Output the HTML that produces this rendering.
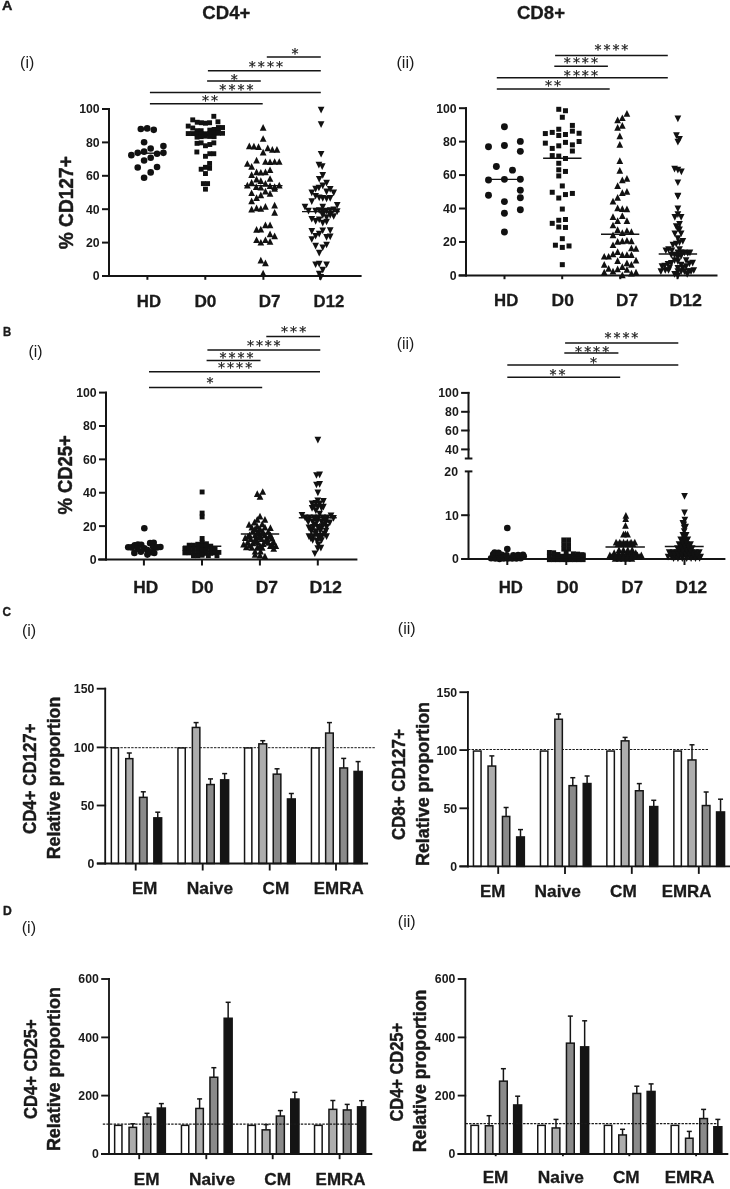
<!DOCTYPE html>
<html lang="en"><head><meta charset="utf-8"><title>Figure</title>
<style>html,body{margin:0;padding:0;background:#fff}body{width:730px;height:1189px;overflow:hidden}svg{display:block;will-change:transform}text{fill:#1a1a1a}</style>
</head><body>
<svg width="730" height="1189" viewBox="0 0 730 1189">
<rect width="730" height="1189" fill="#fff"/>
<text x="458" y="476" font-family="'Liberation Sans', Arial, sans-serif" font-size="12.3" font-weight="bold" text-anchor="end">20</text>
<text x="2.1" y="10.3" font-family="'Liberation Sans', Arial, sans-serif" font-size="12.2" font-weight="bold" textLength="10.4" lengthAdjust="spacingAndGlyphs" stroke="#1a1a1a" stroke-width="0.35" stroke-linejoin="round">A</text>
<text x="3" y="336.1" font-family="'Liberation Sans', Arial, sans-serif" font-size="12.2" font-weight="bold" textLength="8.2" lengthAdjust="spacingAndGlyphs" stroke="#1a1a1a" stroke-width="0.35" stroke-linejoin="round">B</text>
<text x="2.5" y="616.3" font-family="'Liberation Sans', Arial, sans-serif" font-size="12.2" font-weight="bold" textLength="8.5" lengthAdjust="spacingAndGlyphs" stroke="#1a1a1a" stroke-width="0.35" stroke-linejoin="round">C</text>
<text x="3" y="915" font-family="'Liberation Sans', Arial, sans-serif" font-size="12.2" font-weight="bold" textLength="8.8" lengthAdjust="spacingAndGlyphs" stroke="#1a1a1a" stroke-width="0.35" stroke-linejoin="round">D</text>
<text x="202.3" y="19.2" font-family="'Liberation Sans', Arial, sans-serif" font-size="19.2" font-weight="bold" textLength="48.01" lengthAdjust="spacingAndGlyphs" stroke="#1a1a1a" stroke-width="0.3" stroke-linejoin="round">CD4+</text>
<text x="516.9" y="19.3" font-family="'Liberation Sans', Arial, sans-serif" font-size="19.2" font-weight="bold" textLength="48.11" lengthAdjust="spacingAndGlyphs" stroke="#1a1a1a" stroke-width="0.3" stroke-linejoin="round">CD8+</text>
<text x="20.1" y="68.1" font-family="'Liberation Sans', Arial, sans-serif" font-size="16.5" font-weight="normal" textLength="14.1" lengthAdjust="spacingAndGlyphs">(i)</text>
<text x="396.4" y="68.4" font-family="'Liberation Sans', Arial, sans-serif" font-size="16.5" font-weight="normal" textLength="18.11" lengthAdjust="spacingAndGlyphs">(ii)</text>
<text x="28.5" y="356.7" font-family="'Liberation Sans', Arial, sans-serif" font-size="16.5" font-weight="normal" textLength="14" lengthAdjust="spacingAndGlyphs">(i)</text>
<text x="396.7" y="349.4" font-family="'Liberation Sans', Arial, sans-serif" font-size="16.5" font-weight="normal" textLength="17.51" lengthAdjust="spacingAndGlyphs">(ii)</text>
<text x="21.9" y="636.2" font-family="'Liberation Sans', Arial, sans-serif" font-size="16.5" font-weight="normal" textLength="14.3" lengthAdjust="spacingAndGlyphs">(i)</text>
<text x="397.8" y="634" font-family="'Liberation Sans', Arial, sans-serif" font-size="16.5" font-weight="normal" textLength="17.81" lengthAdjust="spacingAndGlyphs">(ii)</text>
<text x="21.7" y="933.4" font-family="'Liberation Sans', Arial, sans-serif" font-size="16.5" font-weight="normal" textLength="14.3" lengthAdjust="spacingAndGlyphs">(i)</text>
<text x="397.8" y="926.8" font-family="'Liberation Sans', Arial, sans-serif" font-size="16.5" font-weight="normal" textLength="17.81" lengthAdjust="spacingAndGlyphs">(ii)</text>
<text x="-249.2" y="0" font-family="'Liberation Sans', Arial, sans-serif" font-size="20" font-weight="bold" textLength="93" lengthAdjust="spacingAndGlyphs" transform="translate(72.7 0) rotate(-90)" stroke="#1a1a1a" stroke-width="0.45" stroke-linejoin="round">% CD127+</text>
<text x="-514.6" y="0" font-family="'Liberation Sans', Arial, sans-serif" font-size="20" font-weight="bold" textLength="79.49" lengthAdjust="spacingAndGlyphs" transform="translate(72.1 0) rotate(-90)" stroke="#1a1a1a" stroke-width="0.45" stroke-linejoin="round">% CD25+</text>
<text x="-834" y="0" font-family="'Liberation Sans', Arial, sans-serif" font-size="18" font-weight="bold" textLength="110.6" lengthAdjust="spacingAndGlyphs" transform="translate(36.1 0) rotate(-90)" stroke="#1a1a1a" stroke-width="0.45" stroke-linejoin="round">CD4+ CD127+</text>
<text x="-859.2" y="0" font-family="'Liberation Sans', Arial, sans-serif" font-size="18" font-weight="bold" textLength="162.39" lengthAdjust="spacingAndGlyphs" transform="translate(60.1 0) rotate(-90)" stroke="#1a1a1a" stroke-width="0.45" stroke-linejoin="round">Relative proportion</text>
<text x="-840.1" y="0" font-family="'Liberation Sans', Arial, sans-serif" font-size="18" font-weight="bold" textLength="110.9" lengthAdjust="spacingAndGlyphs" transform="translate(405.4 0) rotate(-90)" stroke="#1a1a1a" stroke-width="0.45" stroke-linejoin="round">CD8+ CD127+</text>
<text x="-866" y="0" font-family="'Liberation Sans', Arial, sans-serif" font-size="18" font-weight="bold" textLength="163.99" lengthAdjust="spacingAndGlyphs" transform="translate(429 0) rotate(-90)" stroke="#1a1a1a" stroke-width="0.45" stroke-linejoin="round">Relative proportion</text>
<text x="-1119" y="0" font-family="'Liberation Sans', Arial, sans-serif" font-size="18" font-weight="bold" textLength="99.8" lengthAdjust="spacingAndGlyphs" transform="translate(36.6 0) rotate(-90)" stroke="#1a1a1a" stroke-width="0.45" stroke-linejoin="round">CD4+ CD25+</text>
<text x="-1151.1" y="0" font-family="'Liberation Sans', Arial, sans-serif" font-size="18" font-weight="bold" textLength="163.99" lengthAdjust="spacingAndGlyphs" transform="translate(59.6 0) rotate(-90)" stroke="#1a1a1a" stroke-width="0.45" stroke-linejoin="round">Relative proportion</text>
<text x="-1121.5" y="0" font-family="'Liberation Sans', Arial, sans-serif" font-size="18" font-weight="bold" textLength="98.6" lengthAdjust="spacingAndGlyphs" transform="translate(403.4 0) rotate(-90)" stroke="#1a1a1a" stroke-width="0.45" stroke-linejoin="round">CD4+ CD25+</text>
<text x="-1152.3" y="0" font-family="'Liberation Sans', Arial, sans-serif" font-size="18" font-weight="bold" textLength="162.69" lengthAdjust="spacingAndGlyphs" transform="translate(426.2 0) rotate(-90)" stroke="#1a1a1a" stroke-width="0.45" stroke-linejoin="round">Relative proportion</text>
<g>
<line x1="109" y1="108" x2="109" y2="277" stroke="#151515" stroke-width="2"/>
<line x1="102" y1="276" x2="361.6" y2="276" stroke="#151515" stroke-width="2"/>
<line x1="102" y1="276" x2="110" y2="276" stroke="#151515" stroke-width="2"/>
<text x="99.7" y="280.4" font-family="'Liberation Sans', Arial, sans-serif" font-size="12.3" font-weight="bold" text-anchor="end">0</text>
<line x1="102" y1="242.6" x2="110" y2="242.6" stroke="#151515" stroke-width="2"/>
<text x="99.7" y="247" font-family="'Liberation Sans', Arial, sans-serif" font-size="12.3" font-weight="bold" text-anchor="end">20</text>
<line x1="102" y1="209.2" x2="110" y2="209.2" stroke="#151515" stroke-width="2"/>
<text x="99.7" y="213.6" font-family="'Liberation Sans', Arial, sans-serif" font-size="12.3" font-weight="bold" text-anchor="end">40</text>
<line x1="102" y1="175.8" x2="110" y2="175.8" stroke="#151515" stroke-width="2"/>
<text x="99.7" y="180.2" font-family="'Liberation Sans', Arial, sans-serif" font-size="12.3" font-weight="bold" text-anchor="end">60</text>
<line x1="102" y1="142.4" x2="110" y2="142.4" stroke="#151515" stroke-width="2"/>
<text x="99.7" y="146.8" font-family="'Liberation Sans', Arial, sans-serif" font-size="12.3" font-weight="bold" text-anchor="end">80</text>
<line x1="102" y1="109" x2="110" y2="109" stroke="#151515" stroke-width="2"/>
<text x="99.7" y="113.4" font-family="'Liberation Sans', Arial, sans-serif" font-size="12.3" font-weight="bold" text-anchor="end">100</text>
<line x1="147.4" y1="276" x2="147.4" y2="279.8" stroke="#151515" stroke-width="2"/>
<line x1="205.3" y1="276" x2="205.3" y2="279.8" stroke="#151515" stroke-width="2"/>
<line x1="263.4" y1="276" x2="263.4" y2="279.8" stroke="#151515" stroke-width="2"/>
<line x1="320.1" y1="276" x2="320.1" y2="279.8" stroke="#151515" stroke-width="2"/>
<text x="136.8" y="306.5" font-family="'Liberation Sans', Arial, sans-serif" font-size="17" font-weight="bold" textLength="24.21" lengthAdjust="spacingAndGlyphs" stroke="#1a1a1a" stroke-width="0.3" stroke-linejoin="round">HD</text>
<text x="194.4" y="306.5" font-family="'Liberation Sans', Arial, sans-serif" font-size="17" font-weight="bold" textLength="22.01" lengthAdjust="spacingAndGlyphs" stroke="#1a1a1a" stroke-width="0.3" stroke-linejoin="round">D0</text>
<text x="258.8" y="306.5" font-family="'Liberation Sans', Arial, sans-serif" font-size="17" font-weight="bold" textLength="21.81" lengthAdjust="spacingAndGlyphs" stroke="#1a1a1a" stroke-width="0.3" stroke-linejoin="round">D7</text>
<text x="313.6" y="306.5" font-family="'Liberation Sans', Arial, sans-serif" font-size="17" font-weight="bold" textLength="30.71" lengthAdjust="spacingAndGlyphs" stroke="#1a1a1a" stroke-width="0.3" stroke-linejoin="round">D12</text>
<line x1="266.8" y1="57" x2="320.8" y2="57" stroke="#151515" stroke-width="1.5"/>
<line x1="207.9" y1="70.7" x2="320.8" y2="70.7" stroke="#151515" stroke-width="1.5"/>
<line x1="207.1" y1="81.1" x2="260.8" y2="81.1" stroke="#151515" stroke-width="1.5"/>
<line x1="149.9" y1="92.6" x2="320.8" y2="92.6" stroke="#151515" stroke-width="1.5"/>
<line x1="149.9" y1="103.8" x2="262.7" y2="103.8" stroke="#151515" stroke-width="1.5"/>
<text x="291.5" y="58" font-family="'DejaVu Sans', sans-serif" font-size="14" fill="#1a1a1a" stroke="#1a1a1a" stroke-width="0.25">*</text>
<text x="248.7 257.8 266.9 276" y="71" font-family="'DejaVu Sans', sans-serif" font-size="14" fill="#1a1a1a" stroke="#1a1a1a" stroke-width="0.25">****</text>
<text x="230.7" y="84" font-family="'DejaVu Sans', sans-serif" font-size="14" fill="#1a1a1a" stroke="#1a1a1a" stroke-width="0.25">*</text>
<text x="219.3 228.4 237.5 246.6" y="94" font-family="'DejaVu Sans', sans-serif" font-size="14" fill="#1a1a1a" stroke="#1a1a1a" stroke-width="0.25">****</text>
<text x="201.9 211" y="105" font-family="'DejaVu Sans', sans-serif" font-size="14" fill="#1a1a1a" stroke="#1a1a1a" stroke-width="0.25">**</text>
<line x1="140.4" y1="153.2" x2="161" y2="153.2" stroke="#151515" stroke-width="1.4"/>
<line x1="244.2" y1="185.6" x2="282.5" y2="185.6" stroke="#151515" stroke-width="1.4"/>
<line x1="302" y1="211.6" x2="339.7" y2="211.6" stroke="#151515" stroke-width="1.4"/>
<g fill="#111">
<circle cx="140.82" cy="129.04" r="3.3"/><circle cx="147.19" cy="128.42" r="3.3"/><circle cx="153.76" cy="129.86" r="3.3"/><circle cx="144.1" cy="142.19" r="3.3"/><circle cx="163.42" cy="146.09" r="3.3"/><circle cx="150.68" cy="148.56" r="3.3"/><circle cx="144.1" cy="151.64" r="3.3"/><circle cx="137.73" cy="152.87" r="3.3"/><circle cx="157.05" cy="153.69" r="3.3"/><circle cx="163.42" cy="152.87" r="3.3"/><circle cx="131.36" cy="155.13" r="3.3"/><circle cx="150.68" cy="157.8" r="3.3"/><circle cx="144.1" cy="160.47" r="3.3"/><circle cx="137.73" cy="167.46" r="3.3"/><circle cx="157.05" cy="167.05" r="3.3"/><circle cx="150.68" cy="172.39" r="3.3"/><circle cx="144.1" cy="177.73" r="3.3"/>
<rect x="211.37" y="113.86" width="4.9" height="4.9"/><rect x="190.27" y="117.41" width="4.9" height="4.9"/><rect x="215.49" y="119.33" width="4.9" height="4.9"/><rect x="194.78" y="119.81" width="4.9" height="4.9"/><rect x="198.9" y="120.29" width="4.9" height="4.9"/><rect x="203.02" y="120.77" width="4.9" height="4.9"/><rect x="207.15" y="120.29" width="4.9" height="4.9"/><rect x="185.77" y="123.64" width="4.9" height="4.9"/><rect x="220.09" y="125.08" width="4.9" height="4.9"/><rect x="215.97" y="125.08" width="4.9" height="4.9"/><rect x="190.27" y="125.56" width="4.9" height="4.9"/><rect x="194.59" y="128.25" width="4.9" height="4.9"/><rect x="198.71" y="128.25" width="4.9" height="4.9"/><rect x="207.34" y="127.67" width="4.9" height="4.9"/><rect x="211.65" y="127" width="4.9" height="4.9"/><rect x="215.97" y="126.52" width="4.9" height="4.9"/><rect x="185.77" y="131.12" width="4.9" height="4.9"/><rect x="190.08" y="131.12" width="4.9" height="4.9"/><rect x="194.4" y="131.31" width="4.9" height="4.9"/><rect x="198.71" y="131.31" width="4.9" height="4.9"/><rect x="203.02" y="131.31" width="4.9" height="4.9"/><rect x="207.34" y="131.12" width="4.9" height="4.9"/><rect x="211.65" y="130.35" width="4.9" height="4.9"/><rect x="215.97" y="130.83" width="4.9" height="4.9"/><rect x="220.09" y="130.83" width="4.9" height="4.9"/><rect x="194.59" y="134.67" width="4.9" height="4.9"/><rect x="198.71" y="134.19" width="4.9" height="4.9"/><rect x="203.02" y="133.71" width="4.9" height="4.9"/><rect x="207.34" y="134" width="4.9" height="4.9"/><rect x="211.65" y="134.19" width="4.9" height="4.9"/><rect x="194.59" y="140.9" width="4.9" height="4.9"/><rect x="198.71" y="140.42" width="4.9" height="4.9"/><rect x="203.02" y="143.3" width="4.9" height="4.9"/><rect x="207.34" y="142.05" width="4.9" height="4.9"/><rect x="211.37" y="140.42" width="4.9" height="4.9"/><rect x="194.4" y="149.53" width="4.9" height="4.9"/><rect x="207.34" y="151.26" width="4.9" height="4.9"/><rect x="211.37" y="151.26" width="4.9" height="4.9"/><rect x="203.02" y="153.84" width="4.9" height="4.9"/><rect x="207.15" y="161.04" width="4.9" height="4.9"/><rect x="203.02" y="164.87" width="4.9" height="4.9"/><rect x="207.15" y="165.83" width="4.9" height="4.9"/><rect x="198.71" y="166.79" width="4.9" height="4.9"/><rect x="203.02" y="171.1" width="4.9" height="4.9"/><rect x="200.92" y="181.17" width="4.9" height="4.9"/><rect x="205.13" y="181.17" width="4.9" height="4.9"/><rect x="203.02" y="186.73" width="4.9" height="4.9"/>
<path d="M263.14 123.97L266.49 130.67L259.79 130.67Z"/><path d="M263.14 135.14L266.49 141.84L259.79 141.84Z"/><path d="M249.33 142.6L252.68 149.3L245.98 149.3Z"/><path d="M253.93 142.81L257.28 149.51L250.58 149.51Z"/><path d="M258.53 143.36L261.88 150.06L255.18 150.06Z"/><path d="M267.74 144.46L271.09 151.16L264.39 151.16Z"/><path d="M272.34 146.1L275.69 152.8L268.99 152.8Z"/><path d="M276.95 146.1L280.3 152.8L273.6 152.8Z"/><path d="M263.14 148.84L266.49 155.54L259.79 155.54Z"/><path d="M256.56 156.84L259.91 163.54L253.21 163.54Z"/><path d="M265.44 158.16L268.79 164.86L262.09 164.86Z"/><path d="M270.04 158.38L273.39 165.08L266.69 165.08Z"/><path d="M274.64 158.16L277.99 164.86L271.29 164.86Z"/><path d="M279.25 158.16L282.6 164.86L275.9 164.86Z"/><path d="M247.36 160.13L250.71 166.83L244.01 166.83Z"/><path d="M251.63 163.09L254.98 169.79L248.28 169.79Z"/><path d="M270.04 166.38L273.39 173.08L266.69 173.08Z"/><path d="M256.56 168.57L259.91 175.27L253.21 175.27Z"/><path d="M260.84 168.9L264.19 175.6L257.49 175.6Z"/><path d="M265.44 168.57L268.79 175.27L262.09 175.27Z"/><path d="M251.63 171.31L254.98 178.01L248.28 178.01Z"/><path d="M270.04 175.14L273.39 181.84L266.69 181.84Z"/><path d="M256.56 175.69L259.91 182.39L253.21 182.39Z"/><path d="M260.84 177.33L264.19 184.03L257.49 184.03Z"/><path d="M251.63 178.98L254.98 185.68L248.28 185.68Z"/><path d="M265.44 180.07L268.79 186.77L262.09 186.77Z"/><path d="M247.36 181.72L250.71 188.42L244.01 188.42Z"/><path d="M256.23 183.36L259.58 190.06L252.88 190.06Z"/><path d="M260.84 183.91L264.19 190.61L257.49 190.61Z"/><path d="M270.04 182.27L273.39 188.97L266.69 188.97Z"/><path d="M274.64 183.36L277.99 190.06L271.29 190.06Z"/><path d="M279.25 181.72L282.6 188.42L275.9 188.42Z"/><path d="M265.44 187.75L268.79 194.45L262.09 194.45Z"/><path d="M274.64 185.01L277.99 191.71L271.29 191.71Z"/><path d="M251.63 189.39L254.98 196.09L248.28 196.09Z"/><path d="M270.04 189.94L273.39 196.64L266.69 196.64Z"/><path d="M260.84 191.58L264.19 198.28L257.49 198.28Z"/><path d="M256.56 194.32L259.91 201.02L253.21 201.02Z"/><path d="M251.63 197.61L254.98 204.31L248.28 204.31Z"/><path d="M251.63 205.69L254.98 212.39L248.28 212.39Z"/><path d="M256.56 204.6L259.91 211.3L253.21 211.3Z"/><path d="M260.84 205.14L264.19 211.84L257.49 211.84Z"/><path d="M265.44 202.95L268.79 209.65L262.09 209.65Z"/><path d="M274.64 201.86L277.99 208.56L271.29 208.56Z"/><path d="M274.64 208.98L277.99 215.68L271.29 215.68Z"/><path d="M265.44 221.58L268.79 228.28L262.09 228.28Z"/><path d="M270.04 221.58L273.39 228.28L266.69 228.28Z"/><path d="M256.56 225.97L259.91 232.67L253.21 232.67Z"/><path d="M260.84 225.75L264.19 232.45L257.49 232.45Z"/><path d="M270.04 230.57L273.39 237.27L266.69 237.27Z"/><path d="M274.64 232.54L277.99 239.24L271.29 239.24Z"/><path d="M256.56 236.38L259.91 243.08L253.21 243.08Z"/><path d="M265.44 236.38L268.79 243.08L262.09 243.08Z"/><path d="M260.84 238.9L264.19 245.6L257.49 245.6Z"/><path d="M270.04 238.02L273.39 244.72L266.69 244.72Z"/><path d="M260.84 256.87L264.19 263.57L257.49 263.57Z"/><path d="M265.44 259.61L268.79 266.31L262.09 266.31Z"/><path d="M263.14 269.8L266.49 276.5L259.79 276.5Z"/>
<path d="M321.1 113.43L324.45 106.73L317.75 106.73Z"/><path d="M321.1 128.01L324.45 121.31L317.75 121.31Z"/><path d="M321.1 157.6L324.45 150.9L317.75 150.9Z"/><path d="M318.9 168.56L322.25 161.86L315.55 161.86Z"/><path d="M322.19 169.99L325.54 163.29L318.84 163.29Z"/><path d="M322.74 178.76L326.09 172.06L319.39 172.06Z"/><path d="M319.23 182.6L322.58 175.9L315.88 175.9Z"/><path d="M326.58 186.43L329.93 179.73L323.23 179.73Z"/><path d="M322.74 189.17L326.09 182.47L319.39 182.47Z"/><path d="M318.9 191.36L322.25 184.66L315.55 184.66Z"/><path d="M315.62 192.46L318.97 185.76L312.27 185.76Z"/><path d="M330.19 192.68L333.54 185.98L326.84 185.98Z"/><path d="M311.78 196.3L315.13 189.6L308.43 189.6Z"/><path d="M333.7 196.3L337.05 189.6L330.35 189.6Z"/><path d="M326.58 195.2L329.93 188.5L323.23 188.5Z"/><path d="M315.62 199.58L318.97 192.88L312.27 192.88Z"/><path d="M319.23 201.23L322.58 194.53L315.88 194.53Z"/><path d="M322.74 201.77L326.09 195.07L319.39 195.07Z"/><path d="M326.58 202.32L329.93 195.62L323.23 195.62Z"/><path d="M330.19 201.77L333.54 195.07L326.84 195.07Z"/><path d="M311.78 205.06L315.13 198.36L308.43 198.36Z"/><path d="M304.99 210.54L308.34 203.84L301.64 203.84Z"/><path d="M322.74 210.54L326.09 203.84L319.39 203.84Z"/><path d="M337.21 208.68L340.56 201.98L333.86 201.98Z"/><path d="M308.49 214.38L311.84 207.68L305.14 207.68Z"/><path d="M315.62 214.38L318.97 207.68L312.27 207.68Z"/><path d="M319.23 213.83L322.58 207.13L315.88 207.13Z"/><path d="M322.74 214.93L326.09 208.23L319.39 208.23Z"/><path d="M326.58 214.38L329.93 207.68L323.23 207.68Z"/><path d="M330.19 213.83L333.54 207.13L326.84 207.13Z"/><path d="M333.7 213.28L337.05 206.58L330.35 206.58Z"/><path d="M337.21 214.93L340.56 208.23L333.86 208.23Z"/><path d="M322.74 218.76L326.09 212.06L319.39 212.06Z"/><path d="M330.19 218.76L333.54 212.06L326.84 212.06Z"/><path d="M333.7 219.86L337.05 213.16L330.35 213.16Z"/><path d="M311.78 222.6L315.13 215.9L308.43 215.9Z"/><path d="M315.62 224.79L318.97 218.09L312.27 218.09Z"/><path d="M319.23 223.14L322.58 216.44L315.88 216.44Z"/><path d="M322.74 226.43L326.09 219.73L319.39 219.73Z"/><path d="M326.58 225.34L329.93 218.64L323.23 218.64Z"/><path d="M326.58 220.95L329.93 214.25L323.23 214.25Z"/><path d="M311.78 234.65L315.13 227.95L308.43 227.95Z"/><path d="M322.74 234.1L326.09 227.4L319.39 227.4Z"/><path d="M330.19 233.88L333.54 227.18L326.84 227.18Z"/><path d="M315.62 239.58L318.97 232.88L312.27 232.88Z"/><path d="M319.23 237.39L322.58 230.69L315.88 230.69Z"/><path d="M326.58 240.68L329.93 233.98L323.23 233.98Z"/><path d="M330.19 240.13L333.54 233.43L326.84 233.43Z"/><path d="M311.78 242.87L315.13 236.17L308.43 236.17Z"/><path d="M315.62 249.45L318.97 242.75L312.27 242.75Z"/><path d="M326.58 248.35L329.93 241.65L323.23 241.65Z"/><path d="M322.74 251.09L326.09 244.39L319.39 244.39Z"/><path d="M319.23 256.57L322.58 249.87L315.88 249.87Z"/><path d="M315.62 268.08L318.97 261.38L312.27 261.38Z"/><path d="M319.23 267.53L322.58 260.83L315.88 260.83Z"/><path d="M326.58 268.08L329.93 261.38L323.23 261.38Z"/><path d="M322.74 273.56L326.09 266.86L319.39 266.86Z"/><path d="M319.23 277.39L322.58 270.69L315.88 270.69Z"/><path d="M320.77 280.68L324.12 273.98L317.42 273.98Z"/>
</g>
</g>
<g>
<line x1="466" y1="107.2" x2="466" y2="276.4" stroke="#151515" stroke-width="2"/>
<line x1="458.5" y1="275.4" x2="717.5" y2="275.4" stroke="#151515" stroke-width="2"/>
<line x1="459" y1="275.4" x2="467" y2="275.4" stroke="#151515" stroke-width="2"/>
<text x="456.7" y="279.8" font-family="'Liberation Sans', Arial, sans-serif" font-size="12.3" font-weight="bold" text-anchor="end">0</text>
<line x1="459" y1="241.96" x2="467" y2="241.96" stroke="#151515" stroke-width="2"/>
<text x="456.7" y="246.36" font-family="'Liberation Sans', Arial, sans-serif" font-size="12.3" font-weight="bold" text-anchor="end">20</text>
<line x1="459" y1="208.52" x2="467" y2="208.52" stroke="#151515" stroke-width="2"/>
<text x="456.7" y="212.92" font-family="'Liberation Sans', Arial, sans-serif" font-size="12.3" font-weight="bold" text-anchor="end">40</text>
<line x1="459" y1="175.08" x2="467" y2="175.08" stroke="#151515" stroke-width="2"/>
<text x="456.7" y="179.48" font-family="'Liberation Sans', Arial, sans-serif" font-size="12.3" font-weight="bold" text-anchor="end">60</text>
<line x1="459" y1="141.64" x2="467" y2="141.64" stroke="#151515" stroke-width="2"/>
<text x="456.7" y="146.04" font-family="'Liberation Sans', Arial, sans-serif" font-size="12.3" font-weight="bold" text-anchor="end">80</text>
<line x1="459" y1="108.2" x2="467" y2="108.2" stroke="#151515" stroke-width="2"/>
<text x="456.7" y="112.6" font-family="'Liberation Sans', Arial, sans-serif" font-size="12.3" font-weight="bold" text-anchor="end">100</text>
<line x1="504.5" y1="275.4" x2="504.5" y2="279.2" stroke="#151515" stroke-width="2"/>
<line x1="562.2" y1="275.4" x2="562.2" y2="279.2" stroke="#151515" stroke-width="2"/>
<line x1="620.3" y1="275.4" x2="620.3" y2="279.2" stroke="#151515" stroke-width="2"/>
<line x1="677.5" y1="275.4" x2="677.5" y2="279.2" stroke="#151515" stroke-width="2"/>
<text x="494.1" y="306.4" font-family="'Liberation Sans', Arial, sans-serif" font-size="17" font-weight="bold" textLength="24.21" lengthAdjust="spacingAndGlyphs" stroke="#1a1a1a" stroke-width="0.3" stroke-linejoin="round">HD</text>
<text x="551.6" y="306.4" font-family="'Liberation Sans', Arial, sans-serif" font-size="17" font-weight="bold" textLength="22.31" lengthAdjust="spacingAndGlyphs" stroke="#1a1a1a" stroke-width="0.3" stroke-linejoin="round">D0</text>
<text x="616.1" y="306.4" font-family="'Liberation Sans', Arial, sans-serif" font-size="17" font-weight="bold" textLength="21.91" lengthAdjust="spacingAndGlyphs" stroke="#1a1a1a" stroke-width="0.3" stroke-linejoin="round">D7</text>
<text x="669.4" y="306.4" font-family="'Liberation Sans', Arial, sans-serif" font-size="17" font-weight="bold" textLength="32.61" lengthAdjust="spacingAndGlyphs" stroke="#1a1a1a" stroke-width="0.3" stroke-linejoin="round">D12</text>
<line x1="555.1" y1="55.6" x2="667.8" y2="55.6" stroke="#151515" stroke-width="1.5"/>
<line x1="554.3" y1="66.2" x2="607.9" y2="66.2" stroke="#151515" stroke-width="1.5"/>
<line x1="496.8" y1="77.7" x2="667.8" y2="77.7" stroke="#151515" stroke-width="1.5"/>
<line x1="496.8" y1="89.1" x2="609.7" y2="89.1" stroke="#151515" stroke-width="1.5"/>
<text x="594.5 603.6 612.5 621.3" y="54" font-family="'DejaVu Sans', sans-serif" font-size="14" fill="#1a1a1a" stroke="#1a1a1a" stroke-width="0.25">****</text>
<text x="563.8 572.9 581.8 590.9" y="67" font-family="'DejaVu Sans', sans-serif" font-size="14" fill="#1a1a1a" stroke="#1a1a1a" stroke-width="0.25">****</text>
<text x="563.8 572.9 581.8 590.9" y="80" font-family="'DejaVu Sans', sans-serif" font-size="14" fill="#1a1a1a" stroke="#1a1a1a" stroke-width="0.25">****</text>
<text x="545.1 553.9" y="90" font-family="'DejaVu Sans', sans-serif" font-size="14" fill="#1a1a1a" stroke="#1a1a1a" stroke-width="0.25">**</text>
<line x1="488.5" y1="179.4" x2="520.3" y2="179.4" stroke="#151515" stroke-width="1.4"/>
<line x1="543.1" y1="158.2" x2="581.5" y2="158.2" stroke="#151515" stroke-width="1.4"/>
<line x1="601" y1="234.3" x2="639.3" y2="234.3" stroke="#151515" stroke-width="1.4"/>
<line x1="658.7" y1="254" x2="697.1" y2="254" stroke="#151515" stroke-width="1.4"/>
<g fill="#111">
<circle cx="504.42" cy="126.82" r="3.45"/><circle cx="488.5" cy="146.77" r="3.45"/><circle cx="504.42" cy="145.43" r="3.45"/><circle cx="520.33" cy="141.4" r="3.45"/><circle cx="520.33" cy="151.37" r="3.45"/><circle cx="496.36" cy="166.52" r="3.45"/><circle cx="512.47" cy="170.17" r="3.45"/><circle cx="488.5" cy="179.95" r="3.45"/><circle cx="504.42" cy="179.37" r="3.45"/><circle cx="520.33" cy="179.18" r="3.45"/><circle cx="488.5" cy="195.29" r="3.45"/><circle cx="520.33" cy="190.31" r="3.45"/><circle cx="504.42" cy="201.62" r="3.45"/><circle cx="520.33" cy="197.79" r="3.45"/><circle cx="520.33" cy="209.68" r="3.45"/><circle cx="504.42" cy="213.32" r="3.45"/><circle cx="504.42" cy="231.93" r="3.45"/>
<rect x="556.26" y="106.8" width="5" height="5"/><rect x="562.97" y="108.24" width="5" height="5"/><rect x="559.81" y="114.76" width="5" height="5"/><rect x="569.88" y="122.91" width="5" height="5"/><rect x="556.26" y="126.74" width="5" height="5"/><rect x="569.88" y="128.66" width="5" height="5"/><rect x="549.74" y="129.91" width="5" height="5"/><rect x="542.84" y="131.06" width="5" height="5"/><rect x="576.59" y="130.77" width="5" height="5"/><rect x="562.97" y="132.02" width="5" height="5"/><rect x="556.26" y="132.97" width="5" height="5"/><rect x="542.84" y="140.64" width="5" height="5"/><rect x="576.59" y="139.01" width="5" height="5"/><rect x="562.97" y="139.88" width="5" height="5"/><rect x="569.88" y="142.37" width="5" height="5"/><rect x="556.26" y="143.33" width="5" height="5"/><rect x="549.74" y="145.92" width="5" height="5"/><rect x="569.88" y="148.51" width="5" height="5"/><rect x="549.74" y="153.11" width="5" height="5"/><rect x="556.26" y="153.59" width="5" height="5"/><rect x="562.97" y="155.99" width="5" height="5"/><rect x="556.26" y="160.78" width="5" height="5"/><rect x="556.26" y="167.3" width="5" height="5"/><rect x="562.97" y="168.93" width="5" height="5"/><rect x="556.26" y="173.43" width="5" height="5"/><rect x="559.81" y="183.44" width="5" height="5"/><rect x="549.74" y="189.77" width="5" height="5"/><rect x="569.88" y="190.92" width="5" height="5"/><rect x="562.97" y="192.07" width="5" height="5"/><rect x="556.26" y="195.52" width="5" height="5"/><rect x="559.81" y="206.55" width="5" height="5"/><rect x="556.26" y="217.77" width="5" height="5"/><rect x="562.97" y="217" width="5" height="5"/><rect x="549.74" y="220.84" width="5" height="5"/><rect x="556.26" y="224.48" width="5" height="5"/><rect x="562.97" y="224.96" width="5" height="5"/><rect x="559.81" y="236.18" width="5" height="5"/><rect x="552.91" y="242.7" width="5" height="5"/><rect x="566.52" y="243.46" width="5" height="5"/><rect x="559.81" y="244.9" width="5" height="5"/><rect x="559.81" y="262.16" width="5" height="5"/>
<path d="M626.93 110.02L630.28 116.72L623.58 116.72Z"/><path d="M622.33 114.4L625.68 121.1L618.98 121.1Z"/><path d="M617.62 116.6L620.97 123.3L614.27 123.3Z"/><path d="M622.33 122.07L625.68 128.77L618.98 128.77Z"/><path d="M617.62 124.05L620.97 130.75L614.27 130.75Z"/><path d="M619.81 132.6L623.16 139.3L616.46 139.3Z"/><path d="M619.81 141.03L623.16 147.73L616.46 147.73Z"/><path d="M619.81 157.25L623.16 163.95L616.46 163.95Z"/><path d="M619.81 167.12L623.16 173.82L616.46 173.82Z"/><path d="M626.93 175.01L630.28 181.71L623.58 181.71Z"/><path d="M622.33 176.43L625.68 183.13L618.98 183.13Z"/><path d="M617.62 182.2L620.97 188.9L614.27 188.9Z"/><path d="M626.93 188.01L630.28 194.71L623.58 194.71Z"/><path d="M622.33 189.32L625.68 196.02L618.98 196.02Z"/><path d="M617.62 194.03L620.97 200.73L614.27 200.73Z"/><path d="M613.01 197.87L616.36 204.57L609.66 204.57Z"/><path d="M617.62 204.44L620.97 211.14L614.27 211.14Z"/><path d="M622.33 205.21L625.68 211.91L618.98 211.91Z"/><path d="M626.93 205.54L630.28 212.24L623.58 212.24Z"/><path d="M613.01 213.21L616.36 219.91L609.66 219.91Z"/><path d="M622.33 212.33L625.68 219.03L618.98 219.03Z"/><path d="M617.62 217.27L620.97 223.97L614.27 223.97Z"/><path d="M626.93 217.27L630.28 223.97L623.58 223.97Z"/><path d="M613.01 221.65L616.36 228.35L609.66 228.35Z"/><path d="M617.62 226.36L620.97 233.06L614.27 233.06Z"/><path d="M622.33 229.32L625.68 236.02L618.98 236.02Z"/><path d="M626.93 227.13L630.28 233.83L623.58 233.83Z"/><path d="M631.42 228.23L634.77 234.93L628.07 234.93Z"/><path d="M613.01 231.51L616.36 238.21L609.66 238.21Z"/><path d="M617.62 238.09L620.97 244.79L614.27 244.79Z"/><path d="M622.33 237.54L625.68 244.24L618.98 244.24Z"/><path d="M626.93 236.99L630.28 243.69L623.58 243.69Z"/><path d="M631.42 237.54L634.77 244.24L628.07 244.24Z"/><path d="M613.01 241.38L616.36 248.08L609.66 248.08Z"/><path d="M631.42 244.66L634.77 251.36L628.07 251.36Z"/><path d="M636.03 244.99L639.38 251.69L632.68 251.69Z"/><path d="M617.62 248.28L620.97 254.98L614.27 254.98Z"/><path d="M613.01 250.47L616.36 257.17L609.66 257.17Z"/><path d="M604.25 252.88L607.6 259.58L600.9 259.58Z"/><path d="M608.63 252.88L611.98 259.58L605.28 259.58Z"/><path d="M622.33 251.24L625.68 257.94L618.98 257.94Z"/><path d="M626.93 251.24L630.28 257.94L623.58 257.94Z"/><path d="M631.42 251.24L634.77 257.94L628.07 257.94Z"/><path d="M617.62 257.27L620.97 263.97L614.27 263.97Z"/><path d="M636.03 256.72L639.38 263.42L632.68 263.42Z"/><path d="M626.93 259.46L630.28 266.16L623.58 266.16Z"/><path d="M631.42 261.1L634.77 267.8L628.07 267.8Z"/><path d="M604.25 261.1L607.6 267.8L600.9 267.8Z"/><path d="M608.63 264.94L611.98 271.64L605.28 271.64Z"/><path d="M622.33 263.29L625.68 269.99L618.98 269.99Z"/><path d="M617.62 265.49L620.97 272.19L614.27 272.19Z"/><path d="M626.93 266.03L630.28 272.73L623.58 272.73Z"/><path d="M613.01 267.68L616.36 274.38L609.66 274.38Z"/><path d="M604.25 268.77L607.6 275.47L600.9 275.47Z"/><path d="M636.03 268.77L639.38 275.47L632.68 275.47Z"/><path d="M631.42 269.87L634.77 276.57L628.07 276.57Z"/><path d="M622.33 271.51L625.68 278.21L618.98 278.21Z"/>
<path d="M677.88 122.2L681.23 115.5L674.53 115.5Z"/><path d="M676.45 138.97L679.8 132.27L673.1 132.27Z"/><path d="M679.52 142.8L682.87 136.1L676.17 136.1Z"/><path d="M677.88 145.54L681.23 138.84L674.53 138.84Z"/><path d="M674.59 172.39L677.94 165.69L671.24 165.69Z"/><path d="M677.88 173.49L681.23 166.79L674.53 166.79Z"/><path d="M681.38 175.13L684.73 168.43L678.03 168.43Z"/><path d="M677.88 186.09L681.23 179.39L674.53 179.39Z"/><path d="M677.88 199.57L681.23 192.87L674.53 192.87Z"/><path d="M677.88 199.86L681.23 193.16L674.53 193.16Z"/><path d="M677.88 212.24L681.23 205.54L674.53 205.54Z"/><path d="M677.88 217.94L681.23 211.24L674.53 211.24Z"/><path d="M674.81 220.68L678.16 213.98L671.46 213.98Z"/><path d="M681.16 220.68L684.51 213.98L677.81 213.98Z"/><path d="M679.52 227.8L682.87 221.1L676.17 221.1Z"/><path d="M676.23 229.99L679.58 223.29L672.88 223.29Z"/><path d="M677.88 232.19L681.23 225.49L674.53 225.49Z"/><path d="M679.52 233.28L682.87 226.58L676.17 226.58Z"/><path d="M674.81 237.12L678.16 230.42L671.46 230.42Z"/><path d="M681.16 237.12L684.51 230.42L677.81 230.42Z"/><path d="M677.88 242.05L681.23 235.35L674.53 235.35Z"/><path d="M682.81 244.79L686.16 238.09L679.46 238.09Z"/><path d="M679.52 245.88L682.87 239.18L676.17 239.18Z"/><path d="M676.23 247.53L679.58 240.83L672.88 240.83Z"/><path d="M672.95 248.4L676.3 241.7L669.6 241.7Z"/><path d="M668.56 253.01L671.91 246.31L665.21 246.31Z"/><path d="M665.82 254.1L669.17 247.4L662.47 247.4Z"/><path d="M671.85 254.1L675.2 247.4L668.5 247.4Z"/><path d="M679.52 253.01L682.87 246.31L676.17 246.31Z"/><path d="M677.88 256.3L681.23 249.6L674.53 249.6Z"/><path d="M681.16 256.3L684.51 249.6L677.81 249.6Z"/><path d="M684.45 256.3L687.8 249.6L681.1 249.6Z"/><path d="M687.74 256.84L691.09 250.14L684.39 250.14Z"/><path d="M689.93 256.3L693.28 249.6L686.58 249.6Z"/><path d="M674.59 258.49L677.94 251.79L671.24 251.79Z"/><path d="M671.3 258.49L674.65 251.79L667.95 251.79Z"/><path d="M677.88 260.68L681.23 253.98L674.53 253.98Z"/><path d="M681.16 259.58L684.51 252.88L677.81 252.88Z"/><path d="M674.59 263.97L677.94 257.27L671.24 257.27Z"/><path d="M677.88 265.06L681.23 258.36L674.53 258.36Z"/><path d="M686.1 263.97L689.45 257.27L682.75 257.27Z"/><path d="M671.3 266.71L674.65 260.01L667.95 260.01Z"/><path d="M668.01 267.8L671.36 261.1L664.66 261.1Z"/><path d="M692.67 266.38L696.02 259.68L689.32 259.68Z"/><path d="M689.38 267.25L692.73 260.55L686.03 260.55Z"/><path d="M681.16 268.35L684.51 261.65L677.81 261.65Z"/><path d="M664.73 269.45L668.08 262.75L661.38 262.75Z"/><path d="M661.99 269.99L665.34 263.29L658.64 263.29Z"/><path d="M682.81 271.64L686.16 264.94L679.46 264.94Z"/><path d="M686.1 269.99L689.45 263.29L682.75 263.29Z"/><path d="M677.88 271.64L681.23 264.94L674.53 264.94Z"/><path d="M669.66 271.09L673.01 264.39L666.31 264.39Z"/><path d="M660.89 274.93L664.24 268.23L657.54 268.23Z"/><path d="M665.27 273.83L668.62 267.13L661.92 267.13Z"/><path d="M668.56 273.83L671.91 267.13L665.21 267.13Z"/><path d="M677.88 274.93L681.23 268.23L674.53 268.23Z"/><path d="M681.16 274.93L684.51 268.23L677.81 268.23Z"/><path d="M684.45 274.93L687.8 268.23L681.1 268.23Z"/><path d="M688.84 274.93L692.19 268.23L685.49 268.23Z"/><path d="M693.77 273.83L697.12 267.13L690.42 267.13Z"/><path d="M691.03 274.93L694.38 268.23L687.68 268.23Z"/><path d="M674.59 277.67L677.94 270.97L671.24 270.97Z"/><path d="M687.19 277.67L690.54 270.97L683.84 270.97Z"/><path d="M677.88 279.31L681.23 272.61L674.53 272.61Z"/>
</g>
</g>
<g>
<line x1="106" y1="391.7" x2="106" y2="560.5" stroke="#151515" stroke-width="2"/>
<line x1="98" y1="559.5" x2="357.4" y2="559.5" stroke="#151515" stroke-width="2"/>
<line x1="99" y1="559.5" x2="107" y2="559.5" stroke="#151515" stroke-width="2"/>
<text x="96.7" y="563.9" font-family="'Liberation Sans', Arial, sans-serif" font-size="12.3" font-weight="bold" text-anchor="end">0</text>
<line x1="99" y1="526.12" x2="107" y2="526.12" stroke="#151515" stroke-width="2"/>
<text x="96.7" y="530.52" font-family="'Liberation Sans', Arial, sans-serif" font-size="12.3" font-weight="bold" text-anchor="end">20</text>
<line x1="99" y1="492.74" x2="107" y2="492.74" stroke="#151515" stroke-width="2"/>
<text x="96.7" y="497.14" font-family="'Liberation Sans', Arial, sans-serif" font-size="12.3" font-weight="bold" text-anchor="end">40</text>
<line x1="99" y1="459.36" x2="107" y2="459.36" stroke="#151515" stroke-width="2"/>
<text x="96.7" y="463.76" font-family="'Liberation Sans', Arial, sans-serif" font-size="12.3" font-weight="bold" text-anchor="end">60</text>
<line x1="99" y1="425.98" x2="107" y2="425.98" stroke="#151515" stroke-width="2"/>
<text x="96.7" y="430.38" font-family="'Liberation Sans', Arial, sans-serif" font-size="12.3" font-weight="bold" text-anchor="end">80</text>
<line x1="99" y1="392.6" x2="107" y2="392.6" stroke="#151515" stroke-width="2"/>
<text x="96.7" y="397" font-family="'Liberation Sans', Arial, sans-serif" font-size="12.3" font-weight="bold" text-anchor="end">100</text>
<line x1="143.9" y1="559.5" x2="143.9" y2="565.5" stroke="#151515" stroke-width="2"/>
<line x1="202" y1="559.5" x2="202" y2="565.5" stroke="#151515" stroke-width="2"/>
<line x1="259.9" y1="559.5" x2="259.9" y2="565.5" stroke="#151515" stroke-width="2"/>
<line x1="317.8" y1="559.5" x2="317.8" y2="565.5" stroke="#151515" stroke-width="2"/>
<text x="133.3" y="592.5" font-family="'Liberation Sans', Arial, sans-serif" font-size="17" font-weight="bold" textLength="25.01" lengthAdjust="spacingAndGlyphs" stroke="#1a1a1a" stroke-width="0.3" stroke-linejoin="round">HD</text>
<text x="191.6" y="592.5" font-family="'Liberation Sans', Arial, sans-serif" font-size="17" font-weight="bold" textLength="21.91" lengthAdjust="spacingAndGlyphs" stroke="#1a1a1a" stroke-width="0.3" stroke-linejoin="round">D0</text>
<text x="255.7" y="592.5" font-family="'Liberation Sans', Arial, sans-serif" font-size="17" font-weight="bold" textLength="22.31" lengthAdjust="spacingAndGlyphs" stroke="#1a1a1a" stroke-width="0.3" stroke-linejoin="round">D7</text>
<text x="309.4" y="592.5" font-family="'Liberation Sans', Arial, sans-serif" font-size="17" font-weight="bold" textLength="32.61" lengthAdjust="spacingAndGlyphs" stroke="#1a1a1a" stroke-width="0.3" stroke-linejoin="round">D12</text>
<line x1="266.3" y1="336.4" x2="320" y2="336.4" stroke="#151515" stroke-width="1.5"/>
<line x1="207.4" y1="349.9" x2="320.3" y2="349.9" stroke="#151515" stroke-width="1.5"/>
<line x1="206.6" y1="360.5" x2="260.5" y2="360.5" stroke="#151515" stroke-width="1.5"/>
<line x1="149" y1="371.8" x2="320" y2="371.8" stroke="#151515" stroke-width="1.5"/>
<line x1="149" y1="387.4" x2="262.2" y2="387.4" stroke="#151515" stroke-width="1.5"/>
<text x="280.9 289.9 299.2" y="336" font-family="'DejaVu Sans', sans-serif" font-size="14" fill="#1a1a1a" stroke="#1a1a1a" stroke-width="0.25">***</text>
<text x="246.9 256 264.7 273.5" y="350" font-family="'DejaVu Sans', sans-serif" font-size="14" fill="#1a1a1a" stroke="#1a1a1a" stroke-width="0.25">****</text>
<text x="219.5 228.6 237.6 246.6" y="362" font-family="'DejaVu Sans', sans-serif" font-size="14" fill="#1a1a1a" stroke="#1a1a1a" stroke-width="0.25">****</text>
<text x="217.9 226.9 236 245.3" y="372" font-family="'DejaVu Sans', sans-serif" font-size="14" fill="#1a1a1a" stroke="#1a1a1a" stroke-width="0.25">****</text>
<text x="206.6" y="387" font-family="'DejaVu Sans', sans-serif" font-size="14" fill="#1a1a1a" stroke="#1a1a1a" stroke-width="0.25">*</text>
<line x1="182.9" y1="546.2" x2="221.3" y2="546.2" stroke="#151515" stroke-width="1.4"/>
<line x1="240.8" y1="534" x2="279.2" y2="534" stroke="#151515" stroke-width="1.4"/>
<line x1="298.8" y1="517.8" x2="336.7" y2="517.8" stroke="#151515" stroke-width="1.4"/>
<g fill="#111">
<circle cx="144.32" cy="528.22" r="3.3"/><circle cx="128.22" cy="547.19" r="3.3"/><circle cx="131.51" cy="547.4" r="3.3"/><circle cx="134.73" cy="545.34" r="3.3"/><circle cx="137.95" cy="544.45" r="3.3"/><circle cx="141.23" cy="544.79" r="3.3"/><circle cx="144.32" cy="548.42" r="3.3"/><circle cx="147.4" cy="550.14" r="3.3"/><circle cx="150.14" cy="543.15" r="3.3"/><circle cx="153.7" cy="542.74" r="3.3"/><circle cx="153.22" cy="547.05" r="3.3"/><circle cx="156.99" cy="547.4" r="3.3"/><circle cx="160.41" cy="547.05" r="3.3"/><circle cx="134.38" cy="552.88" r="3.3"/><circle cx="140.89" cy="551.64" r="3.3"/><circle cx="147.4" cy="554.59" r="3.3"/><circle cx="150.82" cy="552.19" r="3.3"/><circle cx="154.25" cy="553.01" r="3.3"/><circle cx="137.47" cy="548.63" r="3.3"/>
<rect x="199.67" y="489.53" width="4.9" height="4.9"/><rect x="199.67" y="510.63" width="4.9" height="4.9"/><rect x="199.67" y="514.46" width="4.9" height="4.9"/><rect x="199.67" y="536.04" width="4.9" height="4.9"/><rect x="199.67" y="539.87" width="4.9" height="4.9"/><rect x="203.98" y="541.31" width="4.9" height="4.9"/><rect x="186.73" y="542.75" width="4.9" height="4.9"/><rect x="191.04" y="542.75" width="4.9" height="4.9"/><rect x="195.35" y="541.79" width="4.9" height="4.9"/><rect x="199.67" y="543.71" width="4.9" height="4.9"/><rect x="203.98" y="543.71" width="4.9" height="4.9"/><rect x="208.3" y="543.71" width="4.9" height="4.9"/><rect x="182.41" y="546.1" width="4.9" height="4.9"/><rect x="186.73" y="546.58" width="4.9" height="4.9"/><rect x="191.04" y="546.58" width="4.9" height="4.9"/><rect x="195.35" y="546.58" width="4.9" height="4.9"/><rect x="199.67" y="547.54" width="4.9" height="4.9"/><rect x="203.98" y="547.54" width="4.9" height="4.9"/><rect x="208.3" y="546.58" width="4.9" height="4.9"/><rect x="212.61" y="546.1" width="4.9" height="4.9"/><rect x="182.41" y="550.42" width="4.9" height="4.9"/><rect x="186.73" y="550.42" width="4.9" height="4.9"/><rect x="191.04" y="550.9" width="4.9" height="4.9"/><rect x="195.35" y="550.42" width="4.9" height="4.9"/><rect x="199.67" y="551.38" width="4.9" height="4.9"/><rect x="203.98" y="550.9" width="4.9" height="4.9"/><rect x="208.3" y="550.9" width="4.9" height="4.9"/><rect x="212.61" y="550.42" width="4.9" height="4.9"/><rect x="216.45" y="549.94" width="4.9" height="4.9"/><rect x="191.04" y="553.29" width="4.9" height="4.9"/><rect x="195.35" y="553.29" width="4.9" height="4.9"/><rect x="199.67" y="552.81" width="4.9" height="4.9"/><rect x="205.9" y="553.29" width="4.9" height="4.9"/><rect x="214.53" y="553.29" width="4.9" height="4.9"/>
<path d="M257.26 490.35L260.61 497.05L253.91 497.05Z"/><path d="M262.74 488.16L266.09 494.86L259.39 494.86Z"/><path d="M260 493.09L263.35 499.79L256.65 499.79Z"/><path d="M260 512.81L263.35 519.51L256.65 519.51Z"/><path d="M264.93 516.1L268.28 522.8L261.58 522.8Z"/><path d="M257.26 516.1L260.61 522.8L253.91 522.8Z"/><path d="M254.52 518.84L257.87 525.54L251.17 525.54Z"/><path d="M249.04 521.03L252.39 527.73L245.69 527.73Z"/><path d="M262.19 520.49L265.54 527.19L258.84 527.19Z"/><path d="M251.78 523.77L255.13 530.47L248.43 530.47Z"/><path d="M257.26 522.68L260.61 529.38L253.91 529.38Z"/><path d="M264.93 523.77L268.28 530.47L261.58 530.47Z"/><path d="M270.41 524.32L273.76 531.02L267.06 531.02Z"/><path d="M252.88 527.61L256.23 534.31L249.53 534.31Z"/><path d="M258.36 527.61L261.71 534.31L255.01 534.31Z"/><path d="M262.74 528.16L266.09 534.86L259.39 534.86Z"/><path d="M268.22 528.16L271.57 534.86L264.87 534.86Z"/><path d="M249.59 531.44L252.94 538.14L246.24 538.14Z"/><path d="M255.07 531.44L258.42 538.14L251.72 538.14Z"/><path d="M260 531.44L263.35 538.14L256.65 538.14Z"/><path d="M264.93 531.44L268.28 538.14L261.58 538.14Z"/><path d="M270.41 531.44L273.76 538.14L267.06 538.14Z"/><path d="M245.21 534.18L248.56 540.88L241.86 540.88Z"/><path d="M250.68 535.28L254.03 541.98L247.33 541.98Z"/><path d="M256.16 535.28L259.51 541.98L252.81 541.98Z"/><path d="M261.64 535.28L264.99 541.98L258.29 541.98Z"/><path d="M267.12 535.28L270.47 541.98L263.77 541.98Z"/><path d="M272.05 534.73L275.4 541.43L268.7 541.43Z"/><path d="M243.56 540.76L246.91 547.46L240.21 547.46Z"/><path d="M247.4 539.12L250.75 545.82L244.05 545.82Z"/><path d="M252.88 539.66L256.23 546.36L249.53 546.36Z"/><path d="M257.81 539.12L261.16 545.82L254.46 545.82Z"/><path d="M263.29 540.21L266.64 546.91L259.94 546.91Z"/><path d="M268.22 539.12L271.57 545.82L264.87 545.82Z"/><path d="M273.7 538.57L277.05 545.27L270.35 545.27Z"/><path d="M246.3 543.5L249.65 550.2L242.95 550.2Z"/><path d="M251.78 544.05L255.13 550.75L248.43 550.75Z"/><path d="M257.26 544.05L260.61 550.75L253.91 550.75Z"/><path d="M262.19 544.05L265.54 550.75L258.84 550.75Z"/><path d="M270.41 542.4L273.76 549.1L267.06 549.1Z"/><path d="M275.89 542.4L279.24 549.1L272.54 549.1Z"/><path d="M273.7 545.14L277.05 551.84L270.35 551.84Z"/><path d="M255.07 547.88L258.42 554.58L251.72 554.58Z"/><path d="M260.55 547.88L263.9 554.58L257.2 554.58Z"/><path d="M255.07 551.17L258.42 557.87L251.72 557.87Z"/><path d="M260 551.72L263.35 558.42L256.65 558.42Z"/><path d="M264.93 552.81L268.28 559.51L261.58 559.51Z"/><path d="M255.07 525.42L258.42 532.12L251.72 532.12Z"/><path d="M260 525.42L263.35 532.12L256.65 532.12Z"/><path d="M257.81 529.8L261.16 536.5L254.46 536.5Z"/><path d="M263.29 529.8L266.64 536.5L259.94 536.5Z"/><path d="M247.95 533.09L251.3 539.79L244.6 539.79Z"/><path d="M258.9 533.42L262.25 540.12L255.55 540.12Z"/><path d="M269.32 533.09L272.67 539.79L265.97 539.79Z"/><path d="M254.52 537.25L257.87 543.95L251.17 543.95Z"/><path d="M265.48 537.25L268.83 543.95L262.13 543.95Z"/><path d="M249.59 541.86L252.94 548.56L246.24 548.56Z"/><path d="M260 542.18L263.35 548.88L256.65 548.88Z"/><path d="M272.05 540.76L275.4 547.46L268.7 547.46Z"/>
<path d="M317.87 443.54L321.22 436.84L314.52 436.84Z"/><path d="M316.49 478.87L319.84 472.17L313.14 472.17Z"/><path d="M319.64 478.24L322.99 471.54L316.29 471.54Z"/><path d="M316.49 488.33L319.84 481.63L313.14 481.63Z"/><path d="M319.64 487.7L322.99 481L316.29 481Z"/><path d="M317.87 496.28L321.22 489.58L314.52 489.58Z"/><path d="M323.43 504.74L326.78 498.04L320.08 498.04Z"/><path d="M312.07 507.26L315.42 500.56L308.72 500.56Z"/><path d="M315.85 506.63L319.2 499.93L312.5 499.93Z"/><path d="M319.64 507.26L322.99 500.56L316.29 500.56Z"/><path d="M312.07 511.68L315.42 504.98L308.72 504.98Z"/><path d="M315.85 514.2L319.2 507.5L312.5 507.5Z"/><path d="M321.53 511.68L324.88 504.98L318.18 504.98Z"/><path d="M323.43 510.42L326.78 503.72L320.08 503.72Z"/><path d="M301.97 518.62L305.32 511.92L298.62 511.92Z"/><path d="M319.64 517.36L322.99 510.66L316.29 510.66Z"/><path d="M331 519.25L334.35 512.55L327.65 512.55Z"/><path d="M305.13 521.14L308.48 514.44L301.78 514.44Z"/><path d="M309.55 521.14L312.9 514.44L306.2 514.44Z"/><path d="M313.96 521.14L317.31 514.44L310.61 514.44Z"/><path d="M318.38 521.14L321.73 514.44L315.03 514.44Z"/><path d="M322.79 521.14L326.14 514.44L319.44 514.44Z"/><path d="M327.21 521.14L330.56 514.44L323.86 514.44Z"/><path d="M333.52 521.77L336.87 515.07L330.17 515.07Z"/><path d="M308.28 525.56L311.63 518.86L304.93 518.86Z"/><path d="M312.7 525.56L316.05 518.86L309.35 518.86Z"/><path d="M317.12 524.93L320.47 518.23L313.77 518.23Z"/><path d="M321.53 525.56L324.88 518.86L318.18 518.86Z"/><path d="M325.95 526.19L329.3 519.49L322.6 519.49Z"/><path d="M329.74 526.19L333.09 519.49L326.39 519.49Z"/><path d="M308.91 531.24L312.26 524.54L305.56 524.54Z"/><path d="M313.33 530.61L316.68 523.91L309.98 523.91Z"/><path d="M317.75 530.61L321.1 523.91L314.4 523.91Z"/><path d="M322.16 529.97L325.51 523.27L318.81 523.27Z"/><path d="M326.58 530.61L329.93 523.91L323.23 523.91Z"/><path d="M311.44 535.02L314.79 528.32L308.09 528.32Z"/><path d="M315.85 535.02L319.2 528.32L312.5 528.32Z"/><path d="M320.27 534.39L323.62 527.69L316.92 527.69Z"/><path d="M325.95 534.39L329.3 527.69L322.6 527.69Z"/><path d="M308.91 540.07L312.26 533.37L305.56 533.37Z"/><path d="M313.33 540.07L316.68 533.37L309.98 533.37Z"/><path d="M317.75 539.44L321.1 532.74L314.4 532.74Z"/><path d="M322.16 539.44L325.51 532.74L318.81 532.74Z"/><path d="M326.58 540.07L329.93 533.37L323.23 533.37Z"/><path d="M312.7 543.85L316.05 537.15L309.35 537.15Z"/><path d="M317.12 544.49L320.47 537.79L313.77 537.79Z"/><path d="M321.53 543.85L324.88 537.15L318.18 537.15Z"/><path d="M318.38 548.27L321.73 541.57L315.03 541.57Z"/><path d="M317.75 552.06L321.1 545.36L314.4 545.36Z"/><path d="M320.9 551.43L324.25 544.73L317.55 544.73Z"/><path d="M314.85 557.1L318.2 550.4L311.5 550.4Z"/><path d="M307.27 523.29L310.62 516.59L303.92 516.59Z"/><path d="M316.11 523.03L319.46 516.33L312.76 516.33Z"/><path d="M324.94 523.67L328.29 516.97L321.59 516.97Z"/><path d="M314.85 528.08L318.2 521.38L311.5 521.38Z"/><path d="M323.68 527.83L327.03 521.13L320.33 521.13Z"/><path d="M311.06 532.88L314.41 526.18L307.71 526.18Z"/><path d="M319.89 532.5L323.24 525.8L316.54 525.8Z"/><path d="M315.6 537.55L318.95 530.85L312.25 530.85Z"/><path d="M324.44 537.17L327.79 530.47L321.09 530.47Z"/><path d="M310.81 541.96L314.16 535.26L307.46 535.26Z"/><path d="M319.64 541.71L322.99 535.01L316.29 535.01Z"/><path d="M313.96 510.42L317.31 503.72L310.61 503.72Z"/><path d="M317.75 510.42L321.1 503.72L314.4 503.72Z"/><path d="M317.75 504.11L321.1 497.41L314.4 497.41Z"/>
</g>
</g>
<g>
<line x1="468.5" y1="391.9" x2="468.5" y2="458.5" stroke="#151515" stroke-width="2"/>
<line x1="468.5" y1="471.4" x2="468.5" y2="560" stroke="#151515" stroke-width="2"/>
<line x1="461.5" y1="559" x2="725.4" y2="559" stroke="#151515" stroke-width="2"/>
<line x1="461.1" y1="392.9" x2="469.5" y2="392.9" stroke="#151515" stroke-width="2"/>
<text x="458.8" y="397.3" font-family="'Liberation Sans', Arial, sans-serif" font-size="12.3" font-weight="bold" text-anchor="end">100</text>
<line x1="461.1" y1="411.8" x2="469.5" y2="411.8" stroke="#151515" stroke-width="2"/>
<text x="458.8" y="416.2" font-family="'Liberation Sans', Arial, sans-serif" font-size="12.3" font-weight="bold" text-anchor="end">80</text>
<line x1="461.1" y1="430.5" x2="469.5" y2="430.5" stroke="#151515" stroke-width="2"/>
<text x="458.8" y="434.9" font-family="'Liberation Sans', Arial, sans-serif" font-size="12.3" font-weight="bold" text-anchor="end">60</text>
<line x1="461.1" y1="449.4" x2="469.5" y2="449.4" stroke="#151515" stroke-width="2"/>
<text x="458.8" y="453.8" font-family="'Liberation Sans', Arial, sans-serif" font-size="12.3" font-weight="bold" text-anchor="end">40</text>
<line x1="461.1" y1="515.2" x2="469.5" y2="515.2" stroke="#151515" stroke-width="2"/>
<text x="458.8" y="519.6" font-family="'Liberation Sans', Arial, sans-serif" font-size="12.3" font-weight="bold" text-anchor="end">10</text>
<line x1="461.1" y1="559" x2="469.5" y2="559" stroke="#151515" stroke-width="2"/>
<text x="458.8" y="563.4" font-family="'Liberation Sans', Arial, sans-serif" font-size="12.3" font-weight="bold" text-anchor="end">0</text>
<line x1="464.8" y1="458.5" x2="472.4" y2="458.5" stroke="#151515" stroke-width="2"/>
<line x1="464.8" y1="471.4" x2="472.4" y2="471.4" stroke="#151515" stroke-width="2"/>
<line x1="507.3" y1="559" x2="507.3" y2="565" stroke="#151515" stroke-width="2"/>
<line x1="566.3" y1="559" x2="566.3" y2="565" stroke="#151515" stroke-width="2"/>
<line x1="625.5" y1="559" x2="625.5" y2="565" stroke="#151515" stroke-width="2"/>
<line x1="684.5" y1="559" x2="684.5" y2="565" stroke="#151515" stroke-width="2"/>
<text x="498.7" y="592.5" font-family="'Liberation Sans', Arial, sans-serif" font-size="17" font-weight="bold" textLength="24.21" lengthAdjust="spacingAndGlyphs" stroke="#1a1a1a" stroke-width="0.3" stroke-linejoin="round">HD</text>
<text x="556.6" y="592.5" font-family="'Liberation Sans', Arial, sans-serif" font-size="17" font-weight="bold" textLength="21.91" lengthAdjust="spacingAndGlyphs" stroke="#1a1a1a" stroke-width="0.3" stroke-linejoin="round">D0</text>
<text x="621.5" y="592.5" font-family="'Liberation Sans', Arial, sans-serif" font-size="17" font-weight="bold" textLength="21.51" lengthAdjust="spacingAndGlyphs" stroke="#1a1a1a" stroke-width="0.3" stroke-linejoin="round">D7</text>
<text x="675.5" y="592.5" font-family="'Liberation Sans', Arial, sans-serif" font-size="17" font-weight="bold" textLength="31.51" lengthAdjust="spacingAndGlyphs" stroke="#1a1a1a" stroke-width="0.3" stroke-linejoin="round">D12</text>
<line x1="565.1" y1="343" x2="678.3" y2="343" stroke="#151515" stroke-width="1.5"/>
<line x1="564.3" y1="352.9" x2="618.4" y2="352.9" stroke="#151515" stroke-width="1.5"/>
<line x1="507.3" y1="365.1" x2="678.3" y2="365.1" stroke="#151515" stroke-width="1.5"/>
<line x1="507.3" y1="377.3" x2="620.2" y2="377.3" stroke="#151515" stroke-width="1.5"/>
<text x="604.5 613.6 622.5 631.3" y="342" font-family="'DejaVu Sans', sans-serif" font-size="14" fill="#1a1a1a" stroke="#1a1a1a" stroke-width="0.25">****</text>
<text x="575.1 584.2 593.1 602.2" y="356" font-family="'DejaVu Sans', sans-serif" font-size="14" fill="#1a1a1a" stroke="#1a1a1a" stroke-width="0.25">****</text>
<text x="589.9" y="367" font-family="'DejaVu Sans', sans-serif" font-size="14" fill="#1a1a1a" stroke="#1a1a1a" stroke-width="0.25">*</text>
<text x="549.6 558.4" y="379" font-family="'DejaVu Sans', sans-serif" font-size="14" fill="#1a1a1a" stroke="#1a1a1a" stroke-width="0.25">**</text>
<line x1="605.5" y1="547" x2="644.9" y2="547" stroke="#151515" stroke-width="1.4"/>
<line x1="664.8" y1="546.5" x2="703.7" y2="546.5" stroke="#151515" stroke-width="1.4"/>
<g fill="#111">
<circle cx="507.31" cy="528.02" r="3.3"/><circle cx="507.31" cy="549.12" r="3.3"/><circle cx="491.11" cy="558.23" r="3.3"/><circle cx="495.33" cy="558.51" r="3.3"/><circle cx="499.54" cy="558.9" r="3.3"/><circle cx="503.76" cy="558.51" r="3.3"/><circle cx="507.98" cy="558.51" r="3.3"/><circle cx="512.2" cy="558.51" r="3.3"/><circle cx="516.42" cy="558.51" r="3.3"/><circle cx="520.64" cy="558.13" r="3.3"/><circle cx="523.71" cy="556.21" r="3.3"/><circle cx="493.22" cy="554.3" r="3.3"/><circle cx="497.44" cy="553.91" r="3.3"/><circle cx="501.65" cy="554.87" r="3.3"/><circle cx="506.64" cy="555.25" r="3.3"/><circle cx="513.35" cy="555.25" r="3.3"/><circle cx="518.14" cy="555.06" r="3.3"/><circle cx="522.94" cy="554.87" r="3.3"/><circle cx="494.65" cy="552.67" r="3.3"/><circle cx="498.49" cy="552.76" r="3.3"/>
<rect x="546.93" y="557.21" width="4.9" height="4.9"/><rect x="551.15" y="557.21" width="4.9" height="4.9"/><rect x="555.37" y="557.21" width="4.9" height="4.9"/><rect x="559.59" y="557.21" width="4.9" height="4.9"/><rect x="563.81" y="557.21" width="4.9" height="4.9"/><rect x="568.02" y="557.21" width="4.9" height="4.9"/><rect x="572.24" y="557.21" width="4.9" height="4.9"/><rect x="576.46" y="557.21" width="4.9" height="4.9"/><rect x="580.68" y="557.21" width="4.9" height="4.9"/><rect x="546.93" y="553.76" width="4.9" height="4.9"/><rect x="551.15" y="553.76" width="4.9" height="4.9"/><rect x="555.37" y="553.76" width="4.9" height="4.9"/><rect x="559.59" y="553.76" width="4.9" height="4.9"/><rect x="563.81" y="553.76" width="4.9" height="4.9"/><rect x="568.02" y="553.76" width="4.9" height="4.9"/><rect x="572.24" y="553.76" width="4.9" height="4.9"/><rect x="576.46" y="553.76" width="4.9" height="4.9"/><rect x="580.68" y="553.76" width="4.9" height="4.9"/><rect x="546.93" y="550.02" width="4.9" height="4.9"/><rect x="551.25" y="550.31" width="4.9" height="4.9"/><rect x="555.56" y="552.04" width="4.9" height="4.9"/><rect x="570.9" y="551.37" width="4.9" height="4.9"/><rect x="575.22" y="551.65" width="4.9" height="4.9"/><rect x="579.53" y="552.23" width="4.9" height="4.9"/><rect x="580.78" y="552.61" width="4.9" height="4.9"/><rect x="561.31" y="537.46" width="4.9" height="4.9"/><rect x="566.11" y="537.46" width="4.9" height="4.9"/><rect x="561.31" y="542.07" width="4.9" height="4.9"/><rect x="566.11" y="542.07" width="4.9" height="4.9"/><rect x="561.31" y="546.67" width="4.9" height="4.9"/><rect x="566.11" y="546.67" width="4.9" height="4.9"/><rect x="563.71" y="549.74" width="4.9" height="4.9"/>
<path d="M625.87 511.99L629.22 518.69L622.52 518.69Z"/><path d="M625.68 515.35L629.03 522.05L622.33 522.05Z"/><path d="M625.49 522.06L628.84 528.76L622.14 528.76Z"/><path d="M623.48 530.69L626.83 537.39L620.13 537.39Z"/><path d="M627.6 530.69L630.95 537.39L624.25 537.39Z"/><path d="M625.49 530.4L628.84 537.1L622.14 537.1Z"/><path d="M616.09 538.84L619.44 545.54L612.74 545.54Z"/><path d="M619.83 538.84L623.18 545.54L616.48 545.54Z"/><path d="M623.57 538.84L626.92 545.54L620.22 545.54Z"/><path d="M627.31 538.84L630.66 545.54L623.96 545.54Z"/><path d="M631.05 538.84L634.4 545.54L627.7 545.54Z"/><path d="M634.79 538.84L638.14 545.54L631.44 545.54Z"/><path d="M618.97 546.31L622.32 553.01L615.62 553.01Z"/><path d="M623.38 546.31L626.73 553.01L620.03 553.01Z"/><path d="M627.79 546.31L631.14 553.01L624.44 553.01Z"/><path d="M632.2 546.31L635.55 553.01L628.85 553.01Z"/><path d="M614.18 549.19L617.53 555.89L610.83 555.89Z"/><path d="M618.49 549.19L621.84 555.89L615.14 555.89Z"/><path d="M622.8 549.19L626.15 555.89L619.45 555.89Z"/><path d="M627.12 549.19L630.47 555.89L623.77 555.89Z"/><path d="M631.43 549.19L634.78 555.89L628.08 555.89Z"/><path d="M635.75 549.19L639.1 555.89L632.4 555.89Z"/><path d="M609.86 551.49L613.21 558.19L606.51 558.19Z"/><path d="M613.79 551.49L617.14 558.19L610.44 558.19Z"/><path d="M617.72 551.49L621.07 558.19L614.37 558.19Z"/><path d="M621.65 551.49L625 558.19L618.3 558.19Z"/><path d="M625.58 551.49L628.93 558.19L622.23 558.19Z"/><path d="M629.52 551.49L632.87 558.19L626.17 558.19Z"/><path d="M633.45 551.49L636.8 558.19L630.1 558.19Z"/><path d="M637.38 551.49L640.73 558.19L634.03 558.19Z"/><path d="M641.31 551.49L644.66 558.19L637.96 558.19Z"/><path d="M615.13 555.14L618.48 561.84L611.78 561.84Z"/><path d="M618.97 555.14L622.32 561.84L615.62 561.84Z"/><path d="M623.28 555.14L626.63 561.84L619.93 561.84Z"/><path d="M627.6 555.14L630.95 561.84L624.25 561.84Z"/><path d="M631.91 555.14L635.26 561.84L628.56 561.84Z"/><path d="M618.01 540.27L621.36 546.97L614.66 546.97Z"/><path d="M621.75 540.27L625.1 546.97L618.4 546.97Z"/><path d="M625.49 540.27L628.84 546.97L622.14 546.97Z"/><path d="M629.23 540.27L632.58 546.97L625.88 546.97Z"/><path d="M632.97 540.27L636.32 546.97L629.62 546.97Z"/><path d="M611.78 553.22L615.13 559.92L608.43 559.92Z"/><path d="M615.71 553.22L619.06 559.92L612.36 559.92Z"/><path d="M619.64 553.22L622.99 559.92L616.29 559.92Z"/><path d="M623.57 553.22L626.92 559.92L620.22 559.92Z"/><path d="M627.5 553.22L630.85 559.92L624.15 559.92Z"/><path d="M631.43 553.22L634.78 559.92L628.08 559.92Z"/><path d="M635.36 553.22L638.71 559.92L632.01 559.92Z"/><path d="M639.3 553.22L642.65 559.92L635.95 559.92Z"/>
<path d="M684.52 499.79L687.87 493.09L681.17 493.09Z"/><path d="M684.52 516.23L687.87 509.53L681.17 509.53Z"/><path d="M684.85 523.35L688.2 516.65L681.5 516.65Z"/><path d="M682.88 526.64L686.23 519.94L679.53 519.94Z"/><path d="M685.62 530.47L688.97 523.77L682.27 523.77Z"/><path d="M684.19 531.57L687.54 524.87L680.84 524.87Z"/><path d="M682.88 538.69L686.23 531.99L679.53 531.99Z"/><path d="M686.16 538.69L689.51 531.99L682.81 531.99Z"/><path d="M680.68 543.08L684.03 536.38L677.33 536.38Z"/><path d="M684.19 543.08L687.54 536.38L680.84 536.38Z"/><path d="M687.81 543.08L691.16 536.38L684.46 536.38Z"/><path d="M679.04 548.01L682.39 541.31L675.69 541.31Z"/><path d="M682.88 548.01L686.23 541.31L679.53 541.31Z"/><path d="M686.71 548.01L690.06 541.31L683.36 541.31Z"/><path d="M690.55 548.01L693.9 541.31L687.2 541.31Z"/><path d="M677.4 551.84L680.75 545.14L674.05 545.14Z"/><path d="M681.23 551.84L684.58 545.14L677.88 545.14Z"/><path d="M685.07 551.84L688.42 545.14L681.72 545.14Z"/><path d="M688.9 551.84L692.25 545.14L685.55 545.14Z"/><path d="M692.19 551.84L695.54 545.14L688.84 545.14Z"/><path d="M669.18 555.9L672.53 549.2L665.83 549.2Z"/><path d="M672.95 555.9L676.3 549.2L669.6 549.2Z"/><path d="M676.72 555.9L680.07 549.2L673.37 549.2Z"/><path d="M680.49 555.9L683.84 549.2L677.14 549.2Z"/><path d="M684.26 555.9L687.61 549.2L680.91 549.2Z"/><path d="M688.03 555.9L691.38 549.2L684.68 549.2Z"/><path d="M691.8 555.9L695.15 549.2L688.45 549.2Z"/><path d="M695.57 555.9L698.92 549.2L692.22 549.2Z"/><path d="M699.34 555.9L702.69 549.2L695.99 549.2Z"/><path d="M668.08 560.39L671.43 553.69L664.73 553.69Z"/><path d="M671.7 560.39L675.05 553.69L668.35 553.69Z"/><path d="M675.32 560.39L678.67 553.69L671.97 553.69Z"/><path d="M678.93 560.39L682.28 553.69L675.58 553.69Z"/><path d="M682.55 560.39L685.9 553.69L679.2 553.69Z"/><path d="M686.16 560.39L689.51 553.69L682.81 553.69Z"/><path d="M689.78 560.39L693.13 553.69L686.43 553.69Z"/><path d="M693.4 560.39L696.75 553.69L690.05 553.69Z"/><path d="M697.01 560.39L700.36 553.69L693.66 553.69Z"/><path d="M700.63 560.39L703.98 553.69L697.28 553.69Z"/><path d="M673.56 562.03L676.91 555.33L670.21 555.33Z"/><path d="M677.95 562.03L681.3 555.33L674.6 555.33Z"/><path d="M682.33 562.03L685.68 555.33L678.98 555.33Z"/><path d="M686.71 562.03L690.06 555.33L683.36 555.33Z"/><path d="M691.1 562.03L694.45 555.33L687.75 555.33Z"/><path d="M695.48 562.03L698.83 555.33L692.13 555.33Z"/><path d="M699.53 561.71L702.88 555.01L696.18 555.01Z"/><path d="M670.82 558.09L674.17 551.39L667.47 551.39Z"/><path d="M674.55 558.09L677.9 551.39L671.2 551.39Z"/><path d="M678.27 558.09L681.62 551.39L674.92 551.39Z"/><path d="M682 558.09L685.35 551.39L678.65 551.39Z"/><path d="M685.73 558.09L689.08 551.39L682.38 551.39Z"/><path d="M689.45 558.09L692.8 551.39L686.1 551.39Z"/><path d="M693.18 558.09L696.53 551.39L689.83 551.39Z"/><path d="M696.9 558.09L700.25 551.39L693.55 551.39Z"/><path d="M679.04 553.82L682.39 547.12L675.69 547.12Z"/><path d="M682.77 553.82L686.12 547.12L679.42 547.12Z"/><path d="M686.49 553.82L689.84 547.12L683.14 547.12Z"/><path d="M690.22 553.82L693.57 547.12L686.87 547.12Z"/><path d="M680.9 549.98L684.25 543.28L677.55 543.28Z"/><path d="M684.63 549.98L687.98 543.28L681.28 543.28Z"/><path d="M688.36 549.98L691.71 543.28L685.01 543.28Z"/><path d="M682.55 545.27L685.9 538.57L679.2 538.57Z"/><path d="M685.95 545.27L689.3 538.57L682.6 538.57Z"/><path d="M684.52 540.88L687.87 534.18L681.17 534.18Z"/><path d="M684.19 534.86L687.54 528.16L680.84 528.16Z"/><path d="M683.75 528.28L687.1 521.58L680.4 521.58Z"/>
</g>
</g>
<g>
<line x1="106" y1="747.7" x2="374.9" y2="747.7" stroke="#1a1a1a" stroke-width="1" stroke-dasharray="2.4 1.2"/>
<rect x="111.35" y="747.95" width="7.1" height="115.55" fill="#ffffff" stroke="#151515" stroke-width="1.5"/>
<line x1="129.3" y1="758.65" x2="129.3" y2="753" stroke="#151515" stroke-width="1.5"/>
<line x1="126.8" y1="753" x2="131.8" y2="753" stroke="#151515" stroke-width="1.5"/>
<rect x="125.75" y="758.65" width="7.1" height="104.85" fill="#adadad" stroke="#151515" stroke-width="1.5"/>
<line x1="143.3" y1="797.35" x2="143.3" y2="791.8" stroke="#151515" stroke-width="1.5"/>
<line x1="140.8" y1="791.8" x2="145.8" y2="791.8" stroke="#151515" stroke-width="1.5"/>
<rect x="139.55" y="797.35" width="7.5" height="66.15" fill="#8a8a8a" stroke="#151515" stroke-width="1.5"/>
<line x1="157.75" y1="817.85" x2="157.75" y2="812.2" stroke="#151515" stroke-width="1.5"/>
<line x1="155.25" y1="812.2" x2="160.25" y2="812.2" stroke="#151515" stroke-width="1.5"/>
<rect x="153.85" y="817.85" width="7.8" height="45.65" fill="#141414" stroke="#151515" stroke-width="1.5"/>
<rect x="177.95" y="747.95" width="7.3" height="115.55" fill="#ffffff" stroke="#151515" stroke-width="1.5"/>
<line x1="196.1" y1="727.45" x2="196.1" y2="722.6" stroke="#151515" stroke-width="1.5"/>
<line x1="193.6" y1="722.6" x2="198.6" y2="722.6" stroke="#151515" stroke-width="1.5"/>
<rect x="192.35" y="727.45" width="7.5" height="136.05" fill="#adadad" stroke="#151515" stroke-width="1.5"/>
<line x1="210.5" y1="784.55" x2="210.5" y2="778.9" stroke="#151515" stroke-width="1.5"/>
<line x1="208" y1="778.9" x2="213" y2="778.9" stroke="#151515" stroke-width="1.5"/>
<rect x="206.75" y="784.55" width="7.5" height="78.95" fill="#8a8a8a" stroke="#151515" stroke-width="1.5"/>
<line x1="224.65" y1="779.85" x2="224.65" y2="773.6" stroke="#151515" stroke-width="1.5"/>
<line x1="222.15" y1="773.6" x2="227.15" y2="773.6" stroke="#151515" stroke-width="1.5"/>
<rect x="220.65" y="779.85" width="8" height="83.65" fill="#141414" stroke="#151515" stroke-width="1.5"/>
<rect x="244.55" y="747.95" width="7.3" height="115.55" fill="#ffffff" stroke="#151515" stroke-width="1.5"/>
<line x1="262.75" y1="743.85" x2="262.75" y2="740.7" stroke="#151515" stroke-width="1.5"/>
<line x1="260.25" y1="740.7" x2="265.25" y2="740.7" stroke="#151515" stroke-width="1.5"/>
<rect x="258.85" y="743.85" width="7.8" height="119.65" fill="#adadad" stroke="#151515" stroke-width="1.5"/>
<line x1="277.05" y1="774.15" x2="277.05" y2="768.8" stroke="#151515" stroke-width="1.5"/>
<line x1="274.55" y1="768.8" x2="279.55" y2="768.8" stroke="#151515" stroke-width="1.5"/>
<rect x="273.25" y="774.15" width="7.6" height="89.35" fill="#8a8a8a" stroke="#151515" stroke-width="1.5"/>
<line x1="291.35" y1="798.95" x2="291.35" y2="793.5" stroke="#151515" stroke-width="1.5"/>
<line x1="288.85" y1="793.5" x2="293.85" y2="793.5" stroke="#151515" stroke-width="1.5"/>
<rect x="287.45" y="798.95" width="7.8" height="64.55" fill="#141414" stroke="#151515" stroke-width="1.5"/>
<rect x="311.45" y="747.95" width="7.6" height="115.55" fill="#ffffff" stroke="#151515" stroke-width="1.5"/>
<line x1="329.45" y1="733.05" x2="329.45" y2="722.6" stroke="#151515" stroke-width="1.5"/>
<line x1="326.95" y1="722.6" x2="331.95" y2="722.6" stroke="#151515" stroke-width="1.5"/>
<rect x="325.65" y="733.05" width="7.6" height="130.45" fill="#adadad" stroke="#151515" stroke-width="1.5"/>
<line x1="343.7" y1="767.95" x2="343.7" y2="758.4" stroke="#151515" stroke-width="1.5"/>
<line x1="341.2" y1="758.4" x2="346.2" y2="758.4" stroke="#151515" stroke-width="1.5"/>
<rect x="339.85" y="767.95" width="7.7" height="95.55" fill="#8a8a8a" stroke="#151515" stroke-width="1.5"/>
<line x1="358.1" y1="771.45" x2="358.1" y2="761.6" stroke="#151515" stroke-width="1.5"/>
<line x1="355.6" y1="761.6" x2="360.6" y2="761.6" stroke="#151515" stroke-width="1.5"/>
<rect x="354.05" y="771.45" width="8.1" height="92.05" fill="#141414" stroke="#151515" stroke-width="1.5"/>
<line x1="105.2" y1="687.7" x2="105.2" y2="864.4" stroke="#151515" stroke-width="1.85"/>
<line x1="97" y1="863.5" x2="368.1" y2="863.5" stroke="#151515" stroke-width="1.85"/>
<line x1="96.7" y1="863.5" x2="106.1" y2="863.5" stroke="#151515" stroke-width="1.85"/>
<text x="94.4" y="867.9" font-family="'Liberation Sans', Arial, sans-serif" font-size="12.3" font-weight="bold" text-anchor="end">0</text>
<line x1="96.7" y1="805.5" x2="106.1" y2="805.5" stroke="#151515" stroke-width="1.85"/>
<text x="94.4" y="809.9" font-family="'Liberation Sans', Arial, sans-serif" font-size="12.3" font-weight="bold" text-anchor="end">50</text>
<line x1="96.7" y1="747.4" x2="106.1" y2="747.4" stroke="#151515" stroke-width="1.85"/>
<text x="94.4" y="751.8" font-family="'Liberation Sans', Arial, sans-serif" font-size="12.3" font-weight="bold" text-anchor="end">100</text>
<line x1="96.7" y1="688.7" x2="106.1" y2="688.7" stroke="#151515" stroke-width="1.85"/>
<text x="94.4" y="693.1" font-family="'Liberation Sans', Arial, sans-serif" font-size="12.3" font-weight="bold" text-anchor="end">150</text>
<line x1="135.7" y1="863.5" x2="135.7" y2="870.5" stroke="#151515" stroke-width="1.85"/>
<line x1="202.7" y1="863.5" x2="202.7" y2="870.5" stroke="#151515" stroke-width="1.85"/>
<line x1="269.7" y1="863.5" x2="269.7" y2="870.5" stroke="#151515" stroke-width="1.85"/>
<line x1="336" y1="863.5" x2="336" y2="870.5" stroke="#151515" stroke-width="1.85"/>
<text x="132" y="894.2" font-family="'Liberation Sans', Arial, sans-serif" font-size="17" font-weight="bold" textLength="25.3" lengthAdjust="spacingAndGlyphs" stroke="#1a1a1a" stroke-width="0.3" stroke-linejoin="round">EM</text>
<text x="186.8" y="894.2" font-family="'Liberation Sans', Arial, sans-serif" font-size="17" font-weight="bold" textLength="46.31" lengthAdjust="spacingAndGlyphs" stroke="#1a1a1a" stroke-width="0.3" stroke-linejoin="round">Naive</text>
<text x="262.5" y="894.2" font-family="'Liberation Sans', Arial, sans-serif" font-size="17" font-weight="bold" textLength="26.7" lengthAdjust="spacingAndGlyphs" stroke="#1a1a1a" stroke-width="0.3" stroke-linejoin="round">CM</text>
<text x="313.8" y="894.2" font-family="'Liberation Sans', Arial, sans-serif" font-size="17" font-weight="bold" textLength="49.81" lengthAdjust="spacingAndGlyphs" stroke="#1a1a1a" stroke-width="0.3" stroke-linejoin="round">EMRA</text>
</g>
<g>
<line x1="468" y1="749.5" x2="708.4" y2="749.5" stroke="#1a1a1a" stroke-width="1" stroke-dasharray="2.4 1.2"/>
<rect x="473.45" y="751.05" width="7.6" height="115.35" fill="#ffffff" stroke="#151515" stroke-width="1.5"/>
<line x1="491.85" y1="766.05" x2="491.85" y2="755.9" stroke="#151515" stroke-width="1.5"/>
<line x1="489.35" y1="755.9" x2="494.35" y2="755.9" stroke="#151515" stroke-width="1.5"/>
<rect x="488.05" y="766.05" width="7.6" height="100.35" fill="#adadad" stroke="#151515" stroke-width="1.5"/>
<line x1="506.1" y1="816.45" x2="506.1" y2="807.5" stroke="#151515" stroke-width="1.5"/>
<line x1="503.6" y1="807.5" x2="508.6" y2="807.5" stroke="#151515" stroke-width="1.5"/>
<rect x="502.45" y="816.45" width="7.3" height="49.95" fill="#8a8a8a" stroke="#151515" stroke-width="1.5"/>
<line x1="520.5" y1="836.95" x2="520.5" y2="829.6" stroke="#151515" stroke-width="1.5"/>
<line x1="518" y1="829.6" x2="523" y2="829.6" stroke="#151515" stroke-width="1.5"/>
<rect x="516.65" y="836.95" width="7.7" height="29.45" fill="#141414" stroke="#151515" stroke-width="1.5"/>
<rect x="540.45" y="751.05" width="7.4" height="115.35" fill="#ffffff" stroke="#151515" stroke-width="1.5"/>
<line x1="558.6" y1="719.25" x2="558.6" y2="714" stroke="#151515" stroke-width="1.5"/>
<line x1="556.1" y1="714" x2="561.1" y2="714" stroke="#151515" stroke-width="1.5"/>
<rect x="554.85" y="719.25" width="7.5" height="147.15" fill="#adadad" stroke="#151515" stroke-width="1.5"/>
<line x1="572.8" y1="785.65" x2="572.8" y2="777.7" stroke="#151515" stroke-width="1.5"/>
<line x1="570.3" y1="777.7" x2="575.3" y2="777.7" stroke="#151515" stroke-width="1.5"/>
<rect x="569.05" y="785.65" width="7.5" height="80.75" fill="#8a8a8a" stroke="#151515" stroke-width="1.5"/>
<line x1="587.1" y1="783.55" x2="587.1" y2="776" stroke="#151515" stroke-width="1.5"/>
<line x1="584.6" y1="776" x2="589.6" y2="776" stroke="#151515" stroke-width="1.5"/>
<rect x="583.25" y="783.55" width="7.7" height="82.85" fill="#141414" stroke="#151515" stroke-width="1.5"/>
<rect x="606.85" y="751.05" width="7.5" height="115.35" fill="#ffffff" stroke="#151515" stroke-width="1.5"/>
<line x1="625.1" y1="740.85" x2="625.1" y2="737.4" stroke="#151515" stroke-width="1.5"/>
<line x1="622.6" y1="737.4" x2="627.6" y2="737.4" stroke="#151515" stroke-width="1.5"/>
<rect x="621.25" y="740.85" width="7.7" height="125.55" fill="#adadad" stroke="#151515" stroke-width="1.5"/>
<line x1="639.3" y1="790.75" x2="639.3" y2="783.6" stroke="#151515" stroke-width="1.5"/>
<line x1="636.8" y1="783.6" x2="641.8" y2="783.6" stroke="#151515" stroke-width="1.5"/>
<rect x="635.45" y="790.75" width="7.7" height="75.65" fill="#8a8a8a" stroke="#151515" stroke-width="1.5"/>
<line x1="653.75" y1="806.55" x2="653.75" y2="800.3" stroke="#151515" stroke-width="1.5"/>
<line x1="651.25" y1="800.3" x2="656.25" y2="800.3" stroke="#151515" stroke-width="1.5"/>
<rect x="649.75" y="806.55" width="8" height="59.85" fill="#141414" stroke="#151515" stroke-width="1.5"/>
<rect x="673.85" y="751.05" width="7.5" height="115.35" fill="#ffffff" stroke="#151515" stroke-width="1.5"/>
<line x1="692" y1="759.95" x2="692" y2="744.8" stroke="#151515" stroke-width="1.5"/>
<line x1="689.5" y1="744.8" x2="694.5" y2="744.8" stroke="#151515" stroke-width="1.5"/>
<rect x="688.05" y="759.95" width="7.9" height="106.45" fill="#adadad" stroke="#151515" stroke-width="1.5"/>
<line x1="706.15" y1="805.55" x2="706.15" y2="792" stroke="#151515" stroke-width="1.5"/>
<line x1="703.65" y1="792" x2="708.65" y2="792" stroke="#151515" stroke-width="1.5"/>
<rect x="702.35" y="805.55" width="7.6" height="60.85" fill="#8a8a8a" stroke="#151515" stroke-width="1.5"/>
<line x1="720.55" y1="811.95" x2="720.55" y2="799.2" stroke="#151515" stroke-width="1.5"/>
<line x1="718.05" y1="799.2" x2="723.05" y2="799.2" stroke="#151515" stroke-width="1.5"/>
<rect x="716.55" y="811.95" width="8" height="54.45" fill="#141414" stroke="#151515" stroke-width="1.5"/>
<line x1="467.9" y1="691.2" x2="467.9" y2="867.3" stroke="#151515" stroke-width="1.85"/>
<line x1="459.4" y1="866.4" x2="731" y2="866.4" stroke="#151515" stroke-width="1.85"/>
<line x1="459.4" y1="866.4" x2="468.8" y2="866.4" stroke="#151515" stroke-width="1.85"/>
<text x="457.1" y="870.8" font-family="'Liberation Sans', Arial, sans-serif" font-size="12.3" font-weight="bold" text-anchor="end">0</text>
<line x1="459.4" y1="808.3" x2="468.8" y2="808.3" stroke="#151515" stroke-width="1.85"/>
<text x="457.1" y="812.7" font-family="'Liberation Sans', Arial, sans-serif" font-size="12.3" font-weight="bold" text-anchor="end">50</text>
<line x1="459.4" y1="750.1" x2="468.8" y2="750.1" stroke="#151515" stroke-width="1.85"/>
<text x="457.1" y="754.5" font-family="'Liberation Sans', Arial, sans-serif" font-size="12.3" font-weight="bold" text-anchor="end">100</text>
<line x1="459.4" y1="692.2" x2="468.8" y2="692.2" stroke="#151515" stroke-width="1.85"/>
<text x="457.1" y="696.6" font-family="'Liberation Sans', Arial, sans-serif" font-size="12.3" font-weight="bold" text-anchor="end">150</text>
<line x1="498.2" y1="866.4" x2="498.2" y2="873.9" stroke="#151515" stroke-width="1.85"/>
<line x1="565" y1="866.4" x2="565" y2="873.9" stroke="#151515" stroke-width="1.85"/>
<line x1="631.8" y1="866.4" x2="631.8" y2="873.9" stroke="#151515" stroke-width="1.85"/>
<line x1="698.8" y1="866.4" x2="698.8" y2="873.9" stroke="#151515" stroke-width="1.85"/>
<text x="479.9" y="896.6" font-family="'Liberation Sans', Arial, sans-serif" font-size="17" font-weight="bold" textLength="25.3" lengthAdjust="spacingAndGlyphs" stroke="#1a1a1a" stroke-width="0.3" stroke-linejoin="round">EM</text>
<text x="534.6" y="896.6" font-family="'Liberation Sans', Arial, sans-serif" font-size="17" font-weight="bold" textLength="46.21" lengthAdjust="spacingAndGlyphs" stroke="#1a1a1a" stroke-width="0.3" stroke-linejoin="round">Naive</text>
<text x="610" y="896.6" font-family="'Liberation Sans', Arial, sans-serif" font-size="17" font-weight="bold" textLength="26.7" lengthAdjust="spacingAndGlyphs" stroke="#1a1a1a" stroke-width="0.3" stroke-linejoin="round">CM</text>
<text x="661.8" y="896.6" font-family="'Liberation Sans', Arial, sans-serif" font-size="17" font-weight="bold" textLength="49.71" lengthAdjust="spacingAndGlyphs" stroke="#1a1a1a" stroke-width="0.3" stroke-linejoin="round">EMRA</text>
</g>
<g>
<rect x="114.65" y="1125.35" width="7.3" height="28.65" fill="#ffffff" stroke="#151515" stroke-width="1.5"/>
<line x1="132.8" y1="1127.35" x2="132.8" y2="1123.8" stroke="#151515" stroke-width="1.5"/>
<line x1="130.3" y1="1123.8" x2="135.3" y2="1123.8" stroke="#151515" stroke-width="1.5"/>
<rect x="129.05" y="1127.35" width="7.5" height="26.65" fill="#adadad" stroke="#151515" stroke-width="1.5"/>
<line x1="147" y1="1116.95" x2="147" y2="1113.3" stroke="#151515" stroke-width="1.5"/>
<line x1="144.5" y1="1113.3" x2="149.5" y2="1113.3" stroke="#151515" stroke-width="1.5"/>
<rect x="143.25" y="1116.95" width="7.5" height="37.05" fill="#8a8a8a" stroke="#151515" stroke-width="1.5"/>
<line x1="161.35" y1="1108.05" x2="161.35" y2="1103.6" stroke="#151515" stroke-width="1.5"/>
<line x1="158.85" y1="1103.6" x2="163.85" y2="1103.6" stroke="#151515" stroke-width="1.5"/>
<rect x="157.35" y="1108.05" width="8" height="45.95" fill="#141414" stroke="#151515" stroke-width="1.5"/>
<rect x="181.45" y="1125.35" width="7.3" height="28.65" fill="#ffffff" stroke="#151515" stroke-width="1.5"/>
<line x1="199.6" y1="1108.45" x2="199.6" y2="1098.9" stroke="#151515" stroke-width="1.5"/>
<line x1="197.1" y1="1098.9" x2="202.1" y2="1098.9" stroke="#151515" stroke-width="1.5"/>
<rect x="195.85" y="1108.45" width="7.5" height="45.55" fill="#adadad" stroke="#151515" stroke-width="1.5"/>
<line x1="213.85" y1="1077.25" x2="213.85" y2="1067.7" stroke="#151515" stroke-width="1.5"/>
<line x1="211.35" y1="1067.7" x2="216.35" y2="1067.7" stroke="#151515" stroke-width="1.5"/>
<rect x="209.95" y="1077.25" width="7.8" height="76.75" fill="#8a8a8a" stroke="#151515" stroke-width="1.5"/>
<line x1="228.15" y1="1018.25" x2="228.15" y2="1002.3" stroke="#151515" stroke-width="1.5"/>
<line x1="225.65" y1="1002.3" x2="230.65" y2="1002.3" stroke="#151515" stroke-width="1.5"/>
<rect x="224.15" y="1018.25" width="8" height="135.75" fill="#141414" stroke="#151515" stroke-width="1.5"/>
<rect x="247.85" y="1125.35" width="7.5" height="28.65" fill="#ffffff" stroke="#151515" stroke-width="1.5"/>
<line x1="266.05" y1="1129.85" x2="266.05" y2="1124.6" stroke="#151515" stroke-width="1.5"/>
<line x1="263.55" y1="1124.6" x2="268.55" y2="1124.6" stroke="#151515" stroke-width="1.5"/>
<rect x="262.15" y="1129.85" width="7.8" height="24.15" fill="#adadad" stroke="#151515" stroke-width="1.5"/>
<line x1="280.35" y1="1116.05" x2="280.35" y2="1110.6" stroke="#151515" stroke-width="1.5"/>
<line x1="277.85" y1="1110.6" x2="282.85" y2="1110.6" stroke="#151515" stroke-width="1.5"/>
<rect x="276.35" y="1116.05" width="8" height="37.95" fill="#8a8a8a" stroke="#151515" stroke-width="1.5"/>
<line x1="294.85" y1="1099.05" x2="294.85" y2="1092.3" stroke="#151515" stroke-width="1.5"/>
<line x1="292.35" y1="1092.3" x2="297.35" y2="1092.3" stroke="#151515" stroke-width="1.5"/>
<rect x="290.75" y="1099.05" width="8.2" height="54.95" fill="#141414" stroke="#151515" stroke-width="1.5"/>
<rect x="314.55" y="1125.35" width="7.6" height="28.65" fill="#ffffff" stroke="#151515" stroke-width="1.5"/>
<line x1="332.85" y1="1109.35" x2="332.85" y2="1100.5" stroke="#151515" stroke-width="1.5"/>
<line x1="330.35" y1="1100.5" x2="335.35" y2="1100.5" stroke="#151515" stroke-width="1.5"/>
<rect x="328.95" y="1109.35" width="7.8" height="44.65" fill="#adadad" stroke="#151515" stroke-width="1.5"/>
<line x1="347.2" y1="1109.95" x2="347.2" y2="1104.4" stroke="#151515" stroke-width="1.5"/>
<line x1="344.7" y1="1104.4" x2="349.7" y2="1104.4" stroke="#151515" stroke-width="1.5"/>
<rect x="343.35" y="1109.95" width="7.7" height="44.05" fill="#8a8a8a" stroke="#151515" stroke-width="1.5"/>
<line x1="361.6" y1="1106.85" x2="361.6" y2="1100.7" stroke="#151515" stroke-width="1.5"/>
<line x1="359.1" y1="1100.7" x2="364.1" y2="1100.7" stroke="#151515" stroke-width="1.5"/>
<rect x="357.55" y="1106.85" width="8.1" height="47.15" fill="#141414" stroke="#151515" stroke-width="1.5"/>
<line x1="102.8" y1="1124.1" x2="360" y2="1124.1" stroke="#1a1a1a" stroke-width="1.3" stroke-dasharray="2.4 1.2"/>
<line x1="109" y1="978" x2="109" y2="1154.9" stroke="#151515" stroke-width="1.85"/>
<line x1="101" y1="1154" x2="372.3" y2="1154" stroke="#151515" stroke-width="1.85"/>
<line x1="101.2" y1="1154" x2="109.9" y2="1154" stroke="#151515" stroke-width="1.85"/>
<text x="98.9" y="1158.4" font-family="'Liberation Sans', Arial, sans-serif" font-size="12.3" font-weight="bold" text-anchor="end">0</text>
<line x1="101.2" y1="1095.6" x2="109.9" y2="1095.6" stroke="#151515" stroke-width="1.85"/>
<text x="98.9" y="1100" font-family="'Liberation Sans', Arial, sans-serif" font-size="12.3" font-weight="bold" text-anchor="end">200</text>
<line x1="101.2" y1="1037.4" x2="109.9" y2="1037.4" stroke="#151515" stroke-width="1.85"/>
<text x="98.9" y="1041.8" font-family="'Liberation Sans', Arial, sans-serif" font-size="12.3" font-weight="bold" text-anchor="end">400</text>
<line x1="101.2" y1="979" x2="109.9" y2="979" stroke="#151515" stroke-width="1.85"/>
<text x="98.9" y="983.4" font-family="'Liberation Sans', Arial, sans-serif" font-size="12.3" font-weight="bold" text-anchor="end">600</text>
<line x1="139.2" y1="1154" x2="139.2" y2="1159.2" stroke="#151515" stroke-width="1.85"/>
<line x1="206.3" y1="1154" x2="206.3" y2="1159.2" stroke="#151515" stroke-width="1.85"/>
<line x1="272.7" y1="1154" x2="272.7" y2="1159.2" stroke="#151515" stroke-width="1.85"/>
<line x1="339.6" y1="1154" x2="339.6" y2="1159.2" stroke="#151515" stroke-width="1.85"/>
<text x="133.8" y="1185.3" font-family="'Liberation Sans', Arial, sans-serif" font-size="16" font-weight="bold" textLength="25.7" lengthAdjust="spacingAndGlyphs" stroke="#1a1a1a" stroke-width="0.3" stroke-linejoin="round">EM</text>
<text x="189" y="1185.3" font-family="'Liberation Sans', Arial, sans-serif" font-size="16" font-weight="bold" textLength="46.01" lengthAdjust="spacingAndGlyphs" stroke="#1a1a1a" stroke-width="0.3" stroke-linejoin="round">Naive</text>
<text x="264.2" y="1185.3" font-family="'Liberation Sans', Arial, sans-serif" font-size="16" font-weight="bold" textLength="26.8" lengthAdjust="spacingAndGlyphs" stroke="#1a1a1a" stroke-width="0.3" stroke-linejoin="round">CM</text>
<text x="315.6" y="1185.3" font-family="'Liberation Sans', Arial, sans-serif" font-size="16" font-weight="bold" textLength="49.81" lengthAdjust="spacingAndGlyphs" stroke="#1a1a1a" stroke-width="0.3" stroke-linejoin="round">EMRA</text>
</g>
<g>
<rect x="470.95" y="1125.35" width="7.5" height="28.65" fill="#ffffff" stroke="#151515" stroke-width="1.5"/>
<line x1="489.1" y1="1125.75" x2="489.1" y2="1115.7" stroke="#151515" stroke-width="1.5"/>
<line x1="486.6" y1="1115.7" x2="491.6" y2="1115.7" stroke="#151515" stroke-width="1.5"/>
<rect x="485.35" y="1125.75" width="7.5" height="28.25" fill="#adadad" stroke="#151515" stroke-width="1.5"/>
<line x1="503.4" y1="1081.15" x2="503.4" y2="1068.7" stroke="#151515" stroke-width="1.5"/>
<line x1="500.9" y1="1068.7" x2="505.9" y2="1068.7" stroke="#151515" stroke-width="1.5"/>
<rect x="499.55" y="1081.15" width="7.7" height="72.85" fill="#8a8a8a" stroke="#151515" stroke-width="1.5"/>
<line x1="517.65" y1="1104.95" x2="517.65" y2="1096.2" stroke="#151515" stroke-width="1.5"/>
<line x1="515.15" y1="1096.2" x2="520.15" y2="1096.2" stroke="#151515" stroke-width="1.5"/>
<rect x="513.65" y="1104.95" width="8" height="49.05" fill="#141414" stroke="#151515" stroke-width="1.5"/>
<rect x="537.75" y="1125.35" width="7.5" height="28.65" fill="#ffffff" stroke="#151515" stroke-width="1.5"/>
<line x1="556" y1="1127.95" x2="556" y2="1119.4" stroke="#151515" stroke-width="1.5"/>
<line x1="553.5" y1="1119.4" x2="558.5" y2="1119.4" stroke="#151515" stroke-width="1.5"/>
<rect x="552.15" y="1127.95" width="7.7" height="26.05" fill="#adadad" stroke="#151515" stroke-width="1.5"/>
<line x1="570.35" y1="1043.15" x2="570.35" y2="1016.1" stroke="#151515" stroke-width="1.5"/>
<line x1="567.85" y1="1016.1" x2="572.85" y2="1016.1" stroke="#151515" stroke-width="1.5"/>
<rect x="566.45" y="1043.15" width="7.8" height="110.85" fill="#8a8a8a" stroke="#151515" stroke-width="1.5"/>
<line x1="584.65" y1="1046.85" x2="584.65" y2="1020.8" stroke="#151515" stroke-width="1.5"/>
<line x1="582.15" y1="1020.8" x2="587.15" y2="1020.8" stroke="#151515" stroke-width="1.5"/>
<rect x="580.65" y="1046.85" width="8" height="107.15" fill="#141414" stroke="#151515" stroke-width="1.5"/>
<rect x="604.35" y="1125.35" width="7.4" height="28.65" fill="#ffffff" stroke="#151515" stroke-width="1.5"/>
<line x1="622.55" y1="1134.95" x2="622.55" y2="1129.3" stroke="#151515" stroke-width="1.5"/>
<line x1="620.05" y1="1129.3" x2="625.05" y2="1129.3" stroke="#151515" stroke-width="1.5"/>
<rect x="618.75" y="1134.95" width="7.6" height="19.05" fill="#adadad" stroke="#151515" stroke-width="1.5"/>
<line x1="636.8" y1="1093.45" x2="636.8" y2="1086.2" stroke="#151515" stroke-width="1.5"/>
<line x1="634.3" y1="1086.2" x2="639.3" y2="1086.2" stroke="#151515" stroke-width="1.5"/>
<rect x="632.95" y="1093.45" width="7.7" height="60.55" fill="#8a8a8a" stroke="#151515" stroke-width="1.5"/>
<line x1="651.1" y1="1091.45" x2="651.1" y2="1083.9" stroke="#151515" stroke-width="1.5"/>
<line x1="648.6" y1="1083.9" x2="653.6" y2="1083.9" stroke="#151515" stroke-width="1.5"/>
<rect x="647.15" y="1091.45" width="7.9" height="62.55" fill="#141414" stroke="#151515" stroke-width="1.5"/>
<rect x="671.15" y="1125.35" width="7.5" height="28.65" fill="#ffffff" stroke="#151515" stroke-width="1.5"/>
<line x1="689.3" y1="1138.25" x2="689.3" y2="1131.4" stroke="#151515" stroke-width="1.5"/>
<line x1="686.8" y1="1131.4" x2="691.8" y2="1131.4" stroke="#151515" stroke-width="1.5"/>
<rect x="685.55" y="1138.25" width="7.5" height="15.75" fill="#adadad" stroke="#151515" stroke-width="1.5"/>
<line x1="703.6" y1="1118.55" x2="703.6" y2="1109.4" stroke="#151515" stroke-width="1.5"/>
<line x1="701.1" y1="1109.4" x2="706.1" y2="1109.4" stroke="#151515" stroke-width="1.5"/>
<rect x="699.75" y="1118.55" width="7.7" height="35.45" fill="#8a8a8a" stroke="#151515" stroke-width="1.5"/>
<line x1="717.85" y1="1126.75" x2="717.85" y2="1119.4" stroke="#151515" stroke-width="1.5"/>
<line x1="715.35" y1="1119.4" x2="720.35" y2="1119.4" stroke="#151515" stroke-width="1.5"/>
<rect x="713.85" y="1126.75" width="8" height="27.25" fill="#141414" stroke="#151515" stroke-width="1.5"/>
<line x1="465.5" y1="1123.6" x2="718" y2="1123.6" stroke="#1a1a1a" stroke-width="1.3" stroke-dasharray="2.4 1.2"/>
<line x1="465.3" y1="978" x2="465.3" y2="1154.9" stroke="#151515" stroke-width="1.85"/>
<line x1="457.5" y1="1154" x2="728.3" y2="1154" stroke="#151515" stroke-width="1.85"/>
<line x1="457.7" y1="1154" x2="466.2" y2="1154" stroke="#151515" stroke-width="1.85"/>
<text x="455.4" y="1158.4" font-family="'Liberation Sans', Arial, sans-serif" font-size="12.3" font-weight="bold" text-anchor="end">0</text>
<line x1="457.7" y1="1095.6" x2="466.2" y2="1095.6" stroke="#151515" stroke-width="1.85"/>
<text x="455.4" y="1100" font-family="'Liberation Sans', Arial, sans-serif" font-size="12.3" font-weight="bold" text-anchor="end">200</text>
<line x1="457.7" y1="1037.4" x2="466.2" y2="1037.4" stroke="#151515" stroke-width="1.85"/>
<text x="455.4" y="1041.8" font-family="'Liberation Sans', Arial, sans-serif" font-size="12.3" font-weight="bold" text-anchor="end">400</text>
<line x1="457.7" y1="979" x2="466.2" y2="979" stroke="#151515" stroke-width="1.85"/>
<text x="455.4" y="983.4" font-family="'Liberation Sans', Arial, sans-serif" font-size="12.3" font-weight="bold" text-anchor="end">600</text>
<line x1="495.7" y1="1154" x2="495.7" y2="1156.2" stroke="#151515" stroke-width="1.85"/>
<line x1="562.9" y1="1154" x2="562.9" y2="1156.2" stroke="#151515" stroke-width="1.85"/>
<line x1="629.3" y1="1154" x2="629.3" y2="1156.2" stroke="#151515" stroke-width="1.85"/>
<line x1="696.1" y1="1154" x2="696.1" y2="1156.2" stroke="#151515" stroke-width="1.85"/>
<text x="482.7" y="1183.1" font-family="'Liberation Sans', Arial, sans-serif" font-size="17" font-weight="bold" textLength="25.7" lengthAdjust="spacingAndGlyphs" stroke="#1a1a1a" stroke-width="0.3" stroke-linejoin="round">EM</text>
<text x="537.8" y="1183.1" font-family="'Liberation Sans', Arial, sans-serif" font-size="17" font-weight="bold" textLength="46.21" lengthAdjust="spacingAndGlyphs" stroke="#1a1a1a" stroke-width="0.3" stroke-linejoin="round">Naive</text>
<text x="612.9" y="1183.1" font-family="'Liberation Sans', Arial, sans-serif" font-size="17" font-weight="bold" textLength="26.7" lengthAdjust="spacingAndGlyphs" stroke="#1a1a1a" stroke-width="0.3" stroke-linejoin="round">CM</text>
<text x="664.7" y="1183.1" font-family="'Liberation Sans', Arial, sans-serif" font-size="17" font-weight="bold" textLength="49.91" lengthAdjust="spacingAndGlyphs" stroke="#1a1a1a" stroke-width="0.3" stroke-linejoin="round">EMRA</text>
</g>
</svg>
</body></html>
